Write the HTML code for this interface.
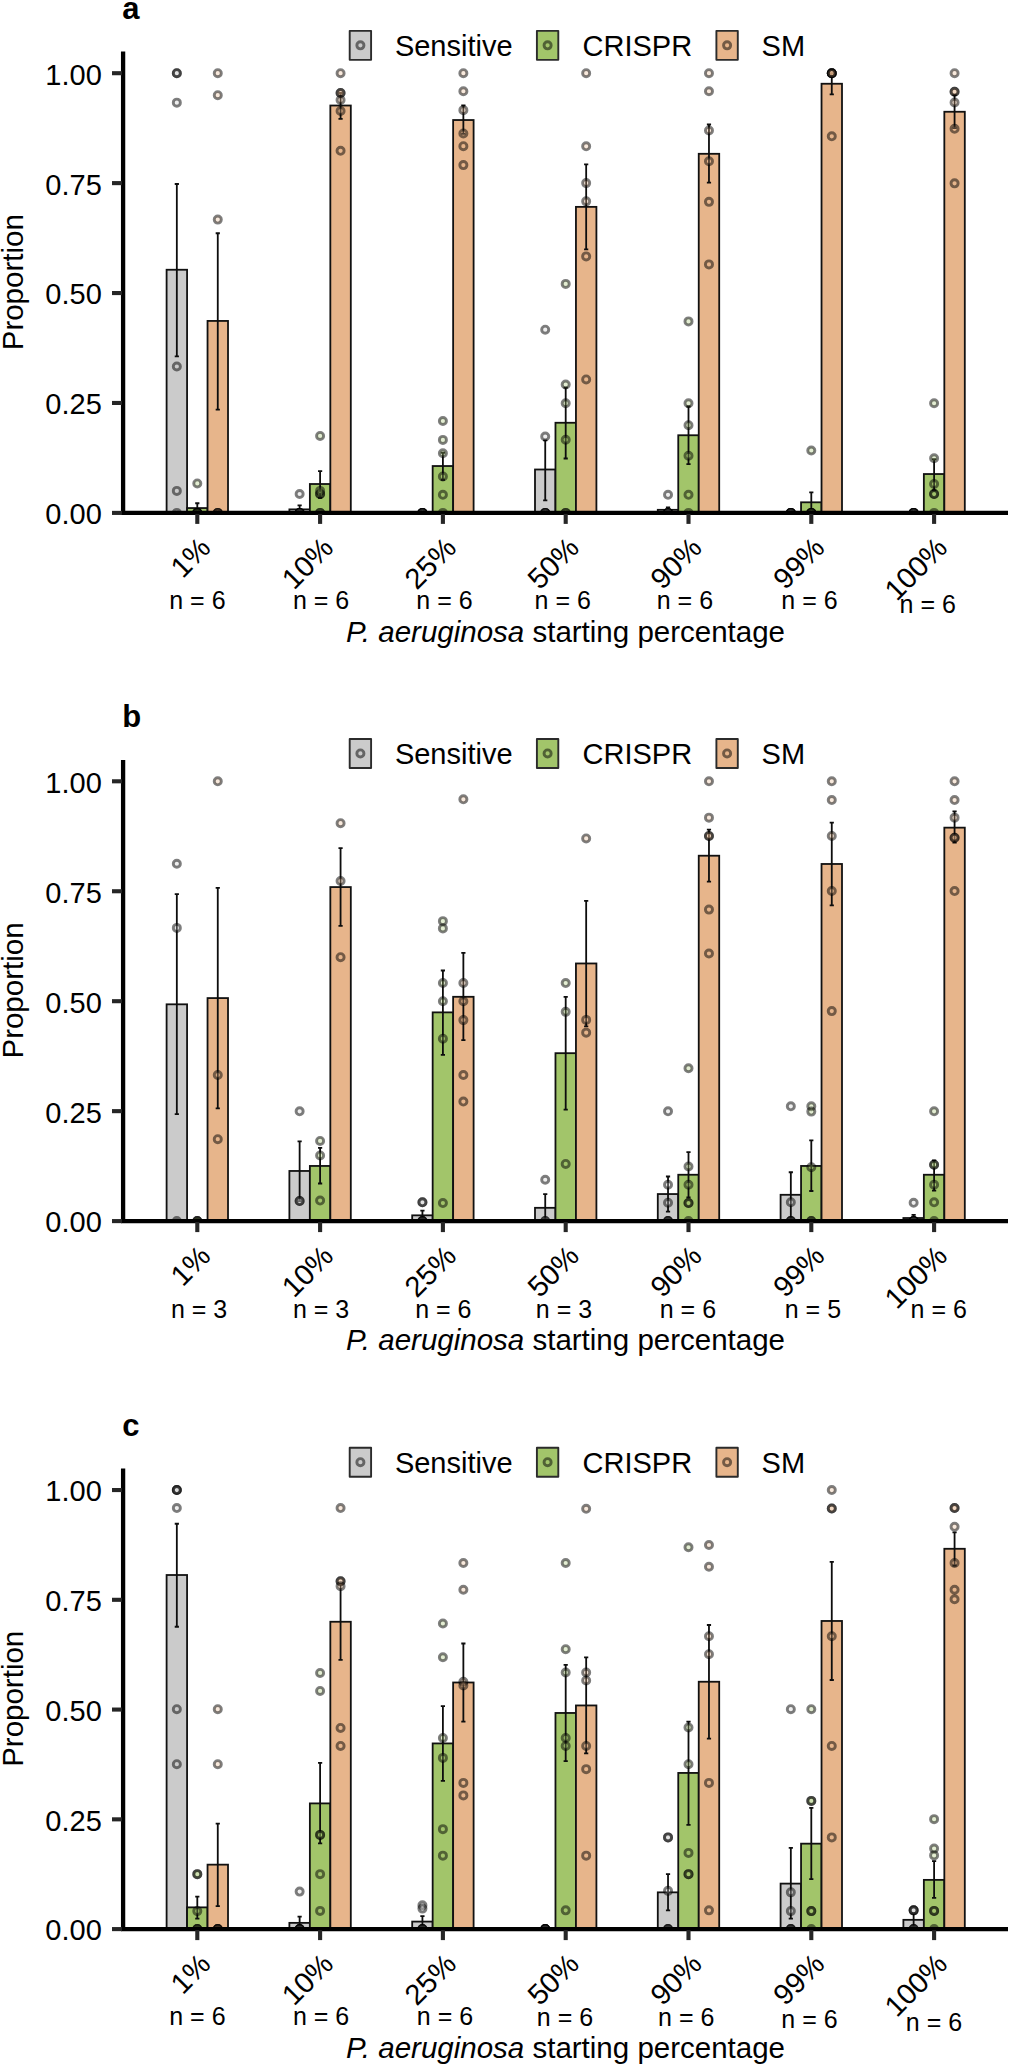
<!DOCTYPE html>
<html lang="en"><head><meta charset="utf-8"><title>Figure</title>
<style>html,body{margin:0;padding:0;background:#fff}svg{display:block}text{font-family:"Liberation Sans",Arial,sans-serif;fill:#000}</style>
</head><body>
<svg width="1016" height="2071" viewBox="0 0 1016 2071">
<rect width="1016" height="2071" fill="#ffffff"/>
<g>
<text x="122.3" y="18.8" font-size="31" font-weight="bold">a</text>
<rect x="349.7" y="30.85" width="21.4" height="29" fill="#cbcbcb" stroke="#2b2b2b" stroke-width="1.9" stroke-linejoin="round"/>
<circle cx="360.4" cy="45.35" r="3.55" fill="#cbcbcb" fill-opacity="0.3" stroke="#000" stroke-opacity="0.5" stroke-width="2.9"/>
<text x="394.9" y="55.85" font-size="29.0">Sensitive</text>
<rect x="536.9" y="30.85" width="21.4" height="29" fill="#a2c56a" stroke="#2b2b2b" stroke-width="1.9" stroke-linejoin="round"/>
<circle cx="547.6" cy="45.35" r="3.55" fill="#a2c56a" fill-opacity="0.3" stroke="#000" stroke-opacity="0.5" stroke-width="2.9"/>
<text x="582.5" y="55.85" font-size="29.0">CRISPR</text>
<rect x="716.4" y="30.85" width="21.4" height="29" fill="#e7b58b" stroke="#2b2b2b" stroke-width="1.9" stroke-linejoin="round"/>
<circle cx="727.1" cy="45.35" r="3.55" fill="#e7b58b" fill-opacity="0.3" stroke="#000" stroke-opacity="0.5" stroke-width="2.9"/>
<text x="761.6" y="55.85" font-size="29.0">SM</text>
<clipPath id="cpa"><rect x="123" y="21.6" width="893" height="491.3"/></clipPath>
<g clip-path="url(#cpa)">
<rect x="166.6" y="269.75" width="20.47" height="243.15" fill="#cbcbcb" stroke="#111" stroke-width="1.8"/>
<rect x="187.06" y="508.06" width="20.47" height="4.84" fill="#a2c56a" stroke="#111" stroke-width="1.8"/>
<rect x="207.54" y="320.93" width="20.47" height="191.97" fill="#e7b58b" stroke="#111" stroke-width="1.8"/>
<rect x="289.39" y="509.38" width="20.47" height="3.52" fill="#cbcbcb" stroke="#111" stroke-width="1.8"/>
<rect x="309.87" y="484.01" width="20.47" height="28.89" fill="#a2c56a" stroke="#111" stroke-width="1.8"/>
<rect x="330.34" y="105.52" width="20.47" height="407.38" fill="#e7b58b" stroke="#111" stroke-width="1.8"/>
<rect x="432.66" y="466.03" width="20.47" height="46.87" fill="#a2c56a" stroke="#111" stroke-width="1.8"/>
<rect x="453.13" y="120.03" width="20.47" height="392.87" fill="#e7b58b" stroke="#111" stroke-width="1.8"/>
<rect x="535" y="469.5" width="20.47" height="43.4" fill="#cbcbcb" stroke="#111" stroke-width="1.8"/>
<rect x="555.47" y="422.76" width="20.47" height="90.14" fill="#a2c56a" stroke="#111" stroke-width="1.8"/>
<rect x="575.94" y="206.87" width="20.47" height="306.03" fill="#e7b58b" stroke="#111" stroke-width="1.8"/>
<rect x="657.79" y="509.82" width="20.47" height="3.08" fill="#cbcbcb" stroke="#111" stroke-width="1.8"/>
<rect x="678.26" y="435.25" width="20.47" height="77.65" fill="#a2c56a" stroke="#111" stroke-width="1.8"/>
<rect x="698.74" y="153.8" width="20.47" height="359.1" fill="#e7b58b" stroke="#111" stroke-width="1.8"/>
<rect x="801.06" y="502.3" width="20.47" height="10.6" fill="#a2c56a" stroke="#111" stroke-width="1.8"/>
<rect x="821.53" y="83.75" width="20.47" height="429.15" fill="#e7b58b" stroke="#111" stroke-width="1.8"/>
<rect x="923.86" y="474.03" width="20.47" height="38.87" fill="#a2c56a" stroke="#111" stroke-width="1.8"/>
<rect x="944.33" y="111.76" width="20.47" height="401.14" fill="#e7b58b" stroke="#111" stroke-width="1.8"/>
<path d="M176.83 184V356.37M174.73 184h4.2M174.73 356.37h4.2" stroke="#0d0d0d" stroke-width="1.8" fill="none"/>
<path d="M197.3 503.23V512.9M195.2 503.23h4.2M195.2 512.9h4.2" stroke="#0d0d0d" stroke-width="1.8" fill="none"/>
<path d="M217.77 233.25V409.57M215.67 233.25h4.2M215.67 409.57h4.2" stroke="#0d0d0d" stroke-width="1.8" fill="none"/>
<path d="M299.63 505.43V512.9M297.53 505.43h4.2M297.53 512.9h4.2" stroke="#0d0d0d" stroke-width="1.8" fill="none"/>
<path d="M320.1 471.13V497.95M318 471.13h4.2M318 497.95h4.2" stroke="#0d0d0d" stroke-width="1.8" fill="none"/>
<path d="M340.57 92.99V118.93M338.47 92.99h4.2M338.47 118.93h4.2" stroke="#0d0d0d" stroke-width="1.8" fill="none"/>
<path d="M442.9 452.75V479.79M440.8 452.75h4.2M440.8 479.79h4.2" stroke="#0d0d0d" stroke-width="1.8" fill="none"/>
<path d="M463.37 105.52V133.88M461.27 105.52h4.2M461.27 133.88h4.2" stroke="#0d0d0d" stroke-width="1.8" fill="none"/>
<path d="M545.23 440.35V500.28M543.13 440.35h4.2M543.13 500.28h4.2" stroke="#0d0d0d" stroke-width="1.8" fill="none"/>
<path d="M565.7 387.72V458.51M563.6 387.72h4.2M563.6 458.51h4.2" stroke="#0d0d0d" stroke-width="1.8" fill="none"/>
<path d="M586.17 164.31V249.39M584.07 164.31h4.2M584.07 249.39h4.2" stroke="#0d0d0d" stroke-width="1.8" fill="none"/>
<path d="M668.03 507.32V512.46M665.93 507.32h4.2M665.93 512.46h4.2" stroke="#0d0d0d" stroke-width="1.8" fill="none"/>
<path d="M688.5 406.49V464.09M686.4 406.49h4.2M686.4 464.09h4.2" stroke="#0d0d0d" stroke-width="1.8" fill="none"/>
<path d="M708.97 124.51V182.55M706.87 124.51h4.2M706.87 182.55h4.2" stroke="#0d0d0d" stroke-width="1.8" fill="none"/>
<path d="M811.3 492.28V512.9M809.2 492.28h4.2M809.2 512.9h4.2" stroke="#0d0d0d" stroke-width="1.8" fill="none"/>
<path d="M831.77 73.2V94.31M829.67 73.2h4.2M829.67 94.31h4.2" stroke="#0d0d0d" stroke-width="1.8" fill="none"/>
<path d="M934.1 459.04V490.3M932 459.04h4.2M932 490.3h4.2" stroke="#0d0d0d" stroke-width="1.8" fill="none"/>
<path d="M954.57 95.01V128.03M952.47 95.01h4.2M952.47 128.03h4.2" stroke="#0d0d0d" stroke-width="1.8" fill="none"/>
<circle cx="176.83" cy="73.2" r="3.55" fill="#cbcbcb" fill-opacity="0.3" stroke="#000" stroke-opacity="0.5" stroke-width="2.9"/>
<circle cx="176.83" cy="73.2" r="3.55" fill="#cbcbcb" fill-opacity="0.3" stroke="#000" stroke-opacity="0.5" stroke-width="2.9"/>
<circle cx="176.83" cy="102.66" r="3.55" fill="#cbcbcb" fill-opacity="0.3" stroke="#000" stroke-opacity="0.5" stroke-width="2.9"/>
<circle cx="176.83" cy="366.48" r="3.55" fill="#cbcbcb" fill-opacity="0.3" stroke="#000" stroke-opacity="0.5" stroke-width="2.9"/>
<circle cx="176.83" cy="490.91" r="3.55" fill="#cbcbcb" fill-opacity="0.3" stroke="#000" stroke-opacity="0.5" stroke-width="2.9"/>
<circle cx="176.83" cy="512.9" r="3.55" fill="#cbcbcb" fill-opacity="0.3" stroke="#000" stroke-opacity="0.5" stroke-width="2.9"/>
<circle cx="197.3" cy="483.44" r="3.55" fill="#a2c56a" fill-opacity="0.3" stroke="#000" stroke-opacity="0.5" stroke-width="2.9"/>
<circle cx="197.3" cy="512.9" r="3.55" fill="#a2c56a" fill-opacity="0.3" stroke="#000" stroke-opacity="0.5" stroke-width="2.9"/>
<circle cx="197.3" cy="512.9" r="3.55" fill="#a2c56a" fill-opacity="0.3" stroke="#000" stroke-opacity="0.5" stroke-width="2.9"/>
<circle cx="197.3" cy="512.9" r="3.55" fill="#a2c56a" fill-opacity="0.3" stroke="#000" stroke-opacity="0.5" stroke-width="2.9"/>
<circle cx="197.3" cy="512.9" r="3.55" fill="#a2c56a" fill-opacity="0.3" stroke="#000" stroke-opacity="0.5" stroke-width="2.9"/>
<circle cx="197.3" cy="512.9" r="3.55" fill="#a2c56a" fill-opacity="0.3" stroke="#000" stroke-opacity="0.5" stroke-width="2.9"/>
<circle cx="217.77" cy="73.2" r="3.55" fill="#e7b58b" fill-opacity="0.3" stroke="#000" stroke-opacity="0.5" stroke-width="2.9"/>
<circle cx="217.77" cy="95.19" r="3.55" fill="#e7b58b" fill-opacity="0.3" stroke="#000" stroke-opacity="0.5" stroke-width="2.9"/>
<circle cx="217.77" cy="219.62" r="3.55" fill="#e7b58b" fill-opacity="0.3" stroke="#000" stroke-opacity="0.5" stroke-width="2.9"/>
<circle cx="217.77" cy="512.9" r="3.55" fill="#e7b58b" fill-opacity="0.3" stroke="#000" stroke-opacity="0.5" stroke-width="2.9"/>
<circle cx="217.77" cy="512.9" r="3.55" fill="#e7b58b" fill-opacity="0.3" stroke="#000" stroke-opacity="0.5" stroke-width="2.9"/>
<circle cx="217.77" cy="512.9" r="3.55" fill="#e7b58b" fill-opacity="0.3" stroke="#000" stroke-opacity="0.5" stroke-width="2.9"/>
<circle cx="299.63" cy="493.99" r="3.55" fill="#cbcbcb" fill-opacity="0.3" stroke="#000" stroke-opacity="0.5" stroke-width="2.9"/>
<circle cx="299.63" cy="512.9" r="3.55" fill="#cbcbcb" fill-opacity="0.3" stroke="#000" stroke-opacity="0.5" stroke-width="2.9"/>
<circle cx="299.63" cy="512.9" r="3.55" fill="#cbcbcb" fill-opacity="0.3" stroke="#000" stroke-opacity="0.5" stroke-width="2.9"/>
<circle cx="299.63" cy="512.9" r="3.55" fill="#cbcbcb" fill-opacity="0.3" stroke="#000" stroke-opacity="0.5" stroke-width="2.9"/>
<circle cx="299.63" cy="512.9" r="3.55" fill="#cbcbcb" fill-opacity="0.3" stroke="#000" stroke-opacity="0.5" stroke-width="2.9"/>
<circle cx="299.63" cy="512.9" r="3.55" fill="#cbcbcb" fill-opacity="0.3" stroke="#000" stroke-opacity="0.5" stroke-width="2.9"/>
<circle cx="320.1" cy="435.95" r="3.55" fill="#a2c56a" fill-opacity="0.3" stroke="#000" stroke-opacity="0.5" stroke-width="2.9"/>
<circle cx="320.1" cy="493.99" r="3.55" fill="#a2c56a" fill-opacity="0.3" stroke="#000" stroke-opacity="0.5" stroke-width="2.9"/>
<circle cx="320.1" cy="493.99" r="3.55" fill="#a2c56a" fill-opacity="0.3" stroke="#000" stroke-opacity="0.5" stroke-width="2.9"/>
<circle cx="320.1" cy="490.91" r="3.55" fill="#a2c56a" fill-opacity="0.3" stroke="#000" stroke-opacity="0.5" stroke-width="2.9"/>
<circle cx="320.1" cy="512.9" r="3.55" fill="#a2c56a" fill-opacity="0.3" stroke="#000" stroke-opacity="0.5" stroke-width="2.9"/>
<circle cx="320.1" cy="512.9" r="3.55" fill="#a2c56a" fill-opacity="0.3" stroke="#000" stroke-opacity="0.5" stroke-width="2.9"/>
<circle cx="340.57" cy="73.2" r="3.55" fill="#e7b58b" fill-opacity="0.3" stroke="#000" stroke-opacity="0.5" stroke-width="2.9"/>
<circle cx="340.57" cy="92.99" r="3.55" fill="#e7b58b" fill-opacity="0.3" stroke="#000" stroke-opacity="0.5" stroke-width="2.9"/>
<circle cx="340.57" cy="92.99" r="3.55" fill="#e7b58b" fill-opacity="0.3" stroke="#000" stroke-opacity="0.5" stroke-width="2.9"/>
<circle cx="340.57" cy="100.02" r="3.55" fill="#e7b58b" fill-opacity="0.3" stroke="#000" stroke-opacity="0.5" stroke-width="2.9"/>
<circle cx="340.57" cy="111.01" r="3.55" fill="#e7b58b" fill-opacity="0.3" stroke="#000" stroke-opacity="0.5" stroke-width="2.9"/>
<circle cx="340.57" cy="150.81" r="3.55" fill="#e7b58b" fill-opacity="0.3" stroke="#000" stroke-opacity="0.5" stroke-width="2.9"/>
<circle cx="422.43" cy="512.9" r="3.55" fill="#cbcbcb" fill-opacity="0.3" stroke="#000" stroke-opacity="0.5" stroke-width="2.9"/>
<circle cx="422.43" cy="512.9" r="3.55" fill="#cbcbcb" fill-opacity="0.3" stroke="#000" stroke-opacity="0.5" stroke-width="2.9"/>
<circle cx="422.43" cy="512.9" r="3.55" fill="#cbcbcb" fill-opacity="0.3" stroke="#000" stroke-opacity="0.5" stroke-width="2.9"/>
<circle cx="422.43" cy="512.9" r="3.55" fill="#cbcbcb" fill-opacity="0.3" stroke="#000" stroke-opacity="0.5" stroke-width="2.9"/>
<circle cx="422.43" cy="512.9" r="3.55" fill="#cbcbcb" fill-opacity="0.3" stroke="#000" stroke-opacity="0.5" stroke-width="2.9"/>
<circle cx="422.43" cy="512.9" r="3.55" fill="#cbcbcb" fill-opacity="0.3" stroke="#000" stroke-opacity="0.5" stroke-width="2.9"/>
<circle cx="442.9" cy="421" r="3.55" fill="#a2c56a" fill-opacity="0.3" stroke="#000" stroke-opacity="0.5" stroke-width="2.9"/>
<circle cx="442.9" cy="439.91" r="3.55" fill="#a2c56a" fill-opacity="0.3" stroke="#000" stroke-opacity="0.5" stroke-width="2.9"/>
<circle cx="442.9" cy="453.28" r="3.55" fill="#a2c56a" fill-opacity="0.3" stroke="#000" stroke-opacity="0.5" stroke-width="2.9"/>
<circle cx="442.9" cy="476.54" r="3.55" fill="#a2c56a" fill-opacity="0.3" stroke="#000" stroke-opacity="0.5" stroke-width="2.9"/>
<circle cx="442.9" cy="494.78" r="3.55" fill="#a2c56a" fill-opacity="0.3" stroke="#000" stroke-opacity="0.5" stroke-width="2.9"/>
<circle cx="442.9" cy="512.9" r="3.55" fill="#a2c56a" fill-opacity="0.3" stroke="#000" stroke-opacity="0.5" stroke-width="2.9"/>
<circle cx="463.37" cy="73.2" r="3.55" fill="#e7b58b" fill-opacity="0.3" stroke="#000" stroke-opacity="0.5" stroke-width="2.9"/>
<circle cx="463.37" cy="91.23" r="3.55" fill="#e7b58b" fill-opacity="0.3" stroke="#000" stroke-opacity="0.5" stroke-width="2.9"/>
<circle cx="463.37" cy="110.13" r="3.55" fill="#e7b58b" fill-opacity="0.3" stroke="#000" stroke-opacity="0.5" stroke-width="2.9"/>
<circle cx="463.37" cy="133.44" r="3.55" fill="#e7b58b" fill-opacity="0.3" stroke="#000" stroke-opacity="0.5" stroke-width="2.9"/>
<circle cx="463.37" cy="146.19" r="3.55" fill="#e7b58b" fill-opacity="0.3" stroke="#000" stroke-opacity="0.5" stroke-width="2.9"/>
<circle cx="463.37" cy="165.1" r="3.55" fill="#e7b58b" fill-opacity="0.3" stroke="#000" stroke-opacity="0.5" stroke-width="2.9"/>
<circle cx="545.23" cy="329.68" r="3.55" fill="#cbcbcb" fill-opacity="0.3" stroke="#000" stroke-opacity="0.5" stroke-width="2.9"/>
<circle cx="545.23" cy="436.48" r="3.55" fill="#cbcbcb" fill-opacity="0.3" stroke="#000" stroke-opacity="0.5" stroke-width="2.9"/>
<circle cx="545.23" cy="512.9" r="3.55" fill="#cbcbcb" fill-opacity="0.3" stroke="#000" stroke-opacity="0.5" stroke-width="2.9"/>
<circle cx="545.23" cy="512.9" r="3.55" fill="#cbcbcb" fill-opacity="0.3" stroke="#000" stroke-opacity="0.5" stroke-width="2.9"/>
<circle cx="545.23" cy="512.9" r="3.55" fill="#cbcbcb" fill-opacity="0.3" stroke="#000" stroke-opacity="0.5" stroke-width="2.9"/>
<circle cx="545.23" cy="512.9" r="3.55" fill="#cbcbcb" fill-opacity="0.3" stroke="#000" stroke-opacity="0.5" stroke-width="2.9"/>
<circle cx="565.7" cy="283.9" r="3.55" fill="#a2c56a" fill-opacity="0.3" stroke="#000" stroke-opacity="0.5" stroke-width="2.9"/>
<circle cx="565.7" cy="384.51" r="3.55" fill="#a2c56a" fill-opacity="0.3" stroke="#000" stroke-opacity="0.5" stroke-width="2.9"/>
<circle cx="565.7" cy="403.24" r="3.55" fill="#a2c56a" fill-opacity="0.3" stroke="#000" stroke-opacity="0.5" stroke-width="2.9"/>
<circle cx="565.7" cy="439.73" r="3.55" fill="#a2c56a" fill-opacity="0.3" stroke="#000" stroke-opacity="0.5" stroke-width="2.9"/>
<circle cx="565.7" cy="512.9" r="3.55" fill="#a2c56a" fill-opacity="0.3" stroke="#000" stroke-opacity="0.5" stroke-width="2.9"/>
<circle cx="565.7" cy="512.9" r="3.55" fill="#a2c56a" fill-opacity="0.3" stroke="#000" stroke-opacity="0.5" stroke-width="2.9"/>
<circle cx="586.17" cy="73.2" r="3.55" fill="#e7b58b" fill-opacity="0.3" stroke="#000" stroke-opacity="0.5" stroke-width="2.9"/>
<circle cx="586.17" cy="146.32" r="3.55" fill="#e7b58b" fill-opacity="0.3" stroke="#000" stroke-opacity="0.5" stroke-width="2.9"/>
<circle cx="586.17" cy="183.12" r="3.55" fill="#e7b58b" fill-opacity="0.3" stroke="#000" stroke-opacity="0.5" stroke-width="2.9"/>
<circle cx="586.17" cy="201.37" r="3.55" fill="#e7b58b" fill-opacity="0.3" stroke="#000" stroke-opacity="0.5" stroke-width="2.9"/>
<circle cx="586.17" cy="256.38" r="3.55" fill="#e7b58b" fill-opacity="0.3" stroke="#000" stroke-opacity="0.5" stroke-width="2.9"/>
<circle cx="586.17" cy="379.45" r="3.55" fill="#e7b58b" fill-opacity="0.3" stroke="#000" stroke-opacity="0.5" stroke-width="2.9"/>
<circle cx="668.03" cy="494.78" r="3.55" fill="#cbcbcb" fill-opacity="0.3" stroke="#000" stroke-opacity="0.5" stroke-width="2.9"/>
<circle cx="668.03" cy="512.9" r="3.55" fill="#cbcbcb" fill-opacity="0.3" stroke="#000" stroke-opacity="0.5" stroke-width="2.9"/>
<circle cx="668.03" cy="512.9" r="3.55" fill="#cbcbcb" fill-opacity="0.3" stroke="#000" stroke-opacity="0.5" stroke-width="2.9"/>
<circle cx="668.03" cy="512.9" r="3.55" fill="#cbcbcb" fill-opacity="0.3" stroke="#000" stroke-opacity="0.5" stroke-width="2.9"/>
<circle cx="668.03" cy="512.9" r="3.55" fill="#cbcbcb" fill-opacity="0.3" stroke="#000" stroke-opacity="0.5" stroke-width="2.9"/>
<circle cx="668.03" cy="512.9" r="3.55" fill="#cbcbcb" fill-opacity="0.3" stroke="#000" stroke-opacity="0.5" stroke-width="2.9"/>
<circle cx="688.5" cy="321.41" r="3.55" fill="#a2c56a" fill-opacity="0.3" stroke="#000" stroke-opacity="0.5" stroke-width="2.9"/>
<circle cx="688.5" cy="403.24" r="3.55" fill="#a2c56a" fill-opacity="0.3" stroke="#000" stroke-opacity="0.5" stroke-width="2.9"/>
<circle cx="688.5" cy="425.22" r="3.55" fill="#a2c56a" fill-opacity="0.3" stroke="#000" stroke-opacity="0.5" stroke-width="2.9"/>
<circle cx="688.5" cy="455.74" r="3.55" fill="#a2c56a" fill-opacity="0.3" stroke="#000" stroke-opacity="0.5" stroke-width="2.9"/>
<circle cx="688.5" cy="494.78" r="3.55" fill="#a2c56a" fill-opacity="0.3" stroke="#000" stroke-opacity="0.5" stroke-width="2.9"/>
<circle cx="688.5" cy="512.9" r="3.55" fill="#a2c56a" fill-opacity="0.3" stroke="#000" stroke-opacity="0.5" stroke-width="2.9"/>
<circle cx="708.97" cy="73.2" r="3.55" fill="#e7b58b" fill-opacity="0.3" stroke="#000" stroke-opacity="0.5" stroke-width="2.9"/>
<circle cx="708.97" cy="91.23" r="3.55" fill="#e7b58b" fill-opacity="0.3" stroke="#000" stroke-opacity="0.5" stroke-width="2.9"/>
<circle cx="708.97" cy="130.54" r="3.55" fill="#e7b58b" fill-opacity="0.3" stroke="#000" stroke-opacity="0.5" stroke-width="2.9"/>
<circle cx="708.97" cy="161.32" r="3.55" fill="#e7b58b" fill-opacity="0.3" stroke="#000" stroke-opacity="0.5" stroke-width="2.9"/>
<circle cx="708.97" cy="201.86" r="3.55" fill="#e7b58b" fill-opacity="0.3" stroke="#000" stroke-opacity="0.5" stroke-width="2.9"/>
<circle cx="708.97" cy="264.38" r="3.55" fill="#e7b58b" fill-opacity="0.3" stroke="#000" stroke-opacity="0.5" stroke-width="2.9"/>
<circle cx="790.83" cy="512.9" r="3.55" fill="#cbcbcb" fill-opacity="0.3" stroke="#000" stroke-opacity="0.5" stroke-width="2.9"/>
<circle cx="790.83" cy="512.9" r="3.55" fill="#cbcbcb" fill-opacity="0.3" stroke="#000" stroke-opacity="0.5" stroke-width="2.9"/>
<circle cx="790.83" cy="512.9" r="3.55" fill="#cbcbcb" fill-opacity="0.3" stroke="#000" stroke-opacity="0.5" stroke-width="2.9"/>
<circle cx="790.83" cy="512.9" r="3.55" fill="#cbcbcb" fill-opacity="0.3" stroke="#000" stroke-opacity="0.5" stroke-width="2.9"/>
<circle cx="790.83" cy="512.9" r="3.55" fill="#cbcbcb" fill-opacity="0.3" stroke="#000" stroke-opacity="0.5" stroke-width="2.9"/>
<circle cx="790.83" cy="512.9" r="3.55" fill="#cbcbcb" fill-opacity="0.3" stroke="#000" stroke-opacity="0.5" stroke-width="2.9"/>
<circle cx="811.3" cy="450.51" r="3.55" fill="#a2c56a" fill-opacity="0.3" stroke="#000" stroke-opacity="0.5" stroke-width="2.9"/>
<circle cx="811.3" cy="512.9" r="3.55" fill="#a2c56a" fill-opacity="0.3" stroke="#000" stroke-opacity="0.5" stroke-width="2.9"/>
<circle cx="811.3" cy="512.9" r="3.55" fill="#a2c56a" fill-opacity="0.3" stroke="#000" stroke-opacity="0.5" stroke-width="2.9"/>
<circle cx="811.3" cy="512.9" r="3.55" fill="#a2c56a" fill-opacity="0.3" stroke="#000" stroke-opacity="0.5" stroke-width="2.9"/>
<circle cx="811.3" cy="512.9" r="3.55" fill="#a2c56a" fill-opacity="0.3" stroke="#000" stroke-opacity="0.5" stroke-width="2.9"/>
<circle cx="811.3" cy="512.9" r="3.55" fill="#a2c56a" fill-opacity="0.3" stroke="#000" stroke-opacity="0.5" stroke-width="2.9"/>
<circle cx="831.77" cy="73.2" r="3.55" fill="#e7b58b" fill-opacity="0.3" stroke="#000" stroke-opacity="0.5" stroke-width="2.9"/>
<circle cx="831.77" cy="73.2" r="3.55" fill="#e7b58b" fill-opacity="0.3" stroke="#000" stroke-opacity="0.5" stroke-width="2.9"/>
<circle cx="831.77" cy="73.2" r="3.55" fill="#e7b58b" fill-opacity="0.3" stroke="#000" stroke-opacity="0.5" stroke-width="2.9"/>
<circle cx="831.77" cy="73.2" r="3.55" fill="#e7b58b" fill-opacity="0.3" stroke="#000" stroke-opacity="0.5" stroke-width="2.9"/>
<circle cx="831.77" cy="73.2" r="3.55" fill="#e7b58b" fill-opacity="0.3" stroke="#000" stroke-opacity="0.5" stroke-width="2.9"/>
<circle cx="831.77" cy="136.3" r="3.55" fill="#e7b58b" fill-opacity="0.3" stroke="#000" stroke-opacity="0.5" stroke-width="2.9"/>
<circle cx="913.63" cy="512.9" r="3.55" fill="#cbcbcb" fill-opacity="0.3" stroke="#000" stroke-opacity="0.5" stroke-width="2.9"/>
<circle cx="913.63" cy="512.9" r="3.55" fill="#cbcbcb" fill-opacity="0.3" stroke="#000" stroke-opacity="0.5" stroke-width="2.9"/>
<circle cx="913.63" cy="512.9" r="3.55" fill="#cbcbcb" fill-opacity="0.3" stroke="#000" stroke-opacity="0.5" stroke-width="2.9"/>
<circle cx="913.63" cy="512.9" r="3.55" fill="#cbcbcb" fill-opacity="0.3" stroke="#000" stroke-opacity="0.5" stroke-width="2.9"/>
<circle cx="913.63" cy="512.9" r="3.55" fill="#cbcbcb" fill-opacity="0.3" stroke="#000" stroke-opacity="0.5" stroke-width="2.9"/>
<circle cx="913.63" cy="512.9" r="3.55" fill="#cbcbcb" fill-opacity="0.3" stroke="#000" stroke-opacity="0.5" stroke-width="2.9"/>
<circle cx="934.1" cy="403.24" r="3.55" fill="#a2c56a" fill-opacity="0.3" stroke="#000" stroke-opacity="0.5" stroke-width="2.9"/>
<circle cx="934.1" cy="458.29" r="3.55" fill="#a2c56a" fill-opacity="0.3" stroke="#000" stroke-opacity="0.5" stroke-width="2.9"/>
<circle cx="934.1" cy="484.01" r="3.55" fill="#a2c56a" fill-opacity="0.3" stroke="#000" stroke-opacity="0.5" stroke-width="2.9"/>
<circle cx="934.1" cy="494.04" r="3.55" fill="#a2c56a" fill-opacity="0.3" stroke="#000" stroke-opacity="0.5" stroke-width="2.9"/>
<circle cx="934.1" cy="494.04" r="3.55" fill="#a2c56a" fill-opacity="0.3" stroke="#000" stroke-opacity="0.5" stroke-width="2.9"/>
<circle cx="934.1" cy="512.9" r="3.55" fill="#a2c56a" fill-opacity="0.3" stroke="#000" stroke-opacity="0.5" stroke-width="2.9"/>
<circle cx="954.57" cy="73.2" r="3.55" fill="#e7b58b" fill-opacity="0.3" stroke="#000" stroke-opacity="0.5" stroke-width="2.9"/>
<circle cx="954.57" cy="91.76" r="3.55" fill="#e7b58b" fill-opacity="0.3" stroke="#000" stroke-opacity="0.5" stroke-width="2.9"/>
<circle cx="954.57" cy="91.76" r="3.55" fill="#e7b58b" fill-opacity="0.3" stroke="#000" stroke-opacity="0.5" stroke-width="2.9"/>
<circle cx="954.57" cy="102.53" r="3.55" fill="#e7b58b" fill-opacity="0.3" stroke="#000" stroke-opacity="0.5" stroke-width="2.9"/>
<circle cx="954.57" cy="128.78" r="3.55" fill="#e7b58b" fill-opacity="0.3" stroke="#000" stroke-opacity="0.5" stroke-width="2.9"/>
<circle cx="954.57" cy="183.34" r="3.55" fill="#e7b58b" fill-opacity="0.3" stroke="#000" stroke-opacity="0.5" stroke-width="2.9"/>
</g>
<path d="M123.1 51.6V512.9H1008" stroke="#000" stroke-width="4.3" fill="none" stroke-linejoin="miter"/>
<path d="M112 512.9H122" stroke="#262626" stroke-width="4.1"/>
<text x="101.8" y="524.28" font-size="29" text-anchor="end">0.00</text>
<path d="M112 402.97H122" stroke="#262626" stroke-width="4.1"/>
<text x="101.8" y="414.36" font-size="29" text-anchor="end">0.25</text>
<path d="M112 293.05H122" stroke="#262626" stroke-width="4.1"/>
<text x="101.8" y="304.43" font-size="29" text-anchor="end">0.50</text>
<path d="M112 183.12H122" stroke="#262626" stroke-width="4.1"/>
<text x="101.8" y="194.51" font-size="29" text-anchor="end">0.75</text>
<path d="M112 73.2H122" stroke="#262626" stroke-width="4.1"/>
<text x="101.8" y="84.58" font-size="29" text-anchor="end">1.00</text>
<path d="M197.3 513.9V523.9" stroke="#262626" stroke-width="4.1"/>
<text transform="translate(212.3 549.6) rotate(-45)" font-size="29" text-anchor="end">1%</text>
<path d="M320.1 513.9V523.9" stroke="#262626" stroke-width="4.1"/>
<text transform="translate(335.1 549.6) rotate(-45)" font-size="29" text-anchor="end">10%</text>
<path d="M442.9 513.9V523.9" stroke="#262626" stroke-width="4.1"/>
<text transform="translate(457.9 549.6) rotate(-45)" font-size="29" text-anchor="end">25%</text>
<path d="M565.7 513.9V523.9" stroke="#262626" stroke-width="4.1"/>
<text transform="translate(580.7 549.6) rotate(-45)" font-size="29" text-anchor="end">50%</text>
<path d="M688.5 513.9V523.9" stroke="#262626" stroke-width="4.1"/>
<text transform="translate(703.5 549.6) rotate(-45)" font-size="29" text-anchor="end">90%</text>
<path d="M811.3 513.9V523.9" stroke="#262626" stroke-width="4.1"/>
<text transform="translate(826.3 549.6) rotate(-45)" font-size="29" text-anchor="end">99%</text>
<path d="M934.1 513.9V523.9" stroke="#262626" stroke-width="4.1"/>
<text transform="translate(949.1 549.6) rotate(-45)" font-size="29" text-anchor="end">100%</text>
<text x="197.4" y="608.7" font-size="25" text-anchor="middle">n = 6</text>
<text x="321.1" y="608.7" font-size="25" text-anchor="middle">n = 6</text>
<text x="444.5" y="608.7" font-size="25" text-anchor="middle">n = 6</text>
<text x="562.7" y="608.7" font-size="25" text-anchor="middle">n = 6</text>
<text x="684.9" y="608.7" font-size="25" text-anchor="middle">n = 6</text>
<text x="809.5" y="608.7" font-size="25" text-anchor="middle">n = 6</text>
<text x="927.7" y="613.1" font-size="25" text-anchor="middle">n = 6</text>
<text x="565.5" y="642.2" font-size="29.5" text-anchor="middle"><tspan font-style="italic">P. aeruginosa</tspan> starting percentage</text>
<text transform="translate(23.4 282.25) rotate(-90)" font-size="29.5" text-anchor="middle">Proportion</text>
</g>
<g>
<text x="122.3" y="727.2" font-size="31" font-weight="bold">b</text>
<rect x="349.7" y="738.95" width="21.4" height="29" fill="#cbcbcb" stroke="#2b2b2b" stroke-width="1.9" stroke-linejoin="round"/>
<circle cx="360.4" cy="753.45" r="3.55" fill="#cbcbcb" fill-opacity="0.3" stroke="#000" stroke-opacity="0.5" stroke-width="2.9"/>
<text x="394.9" y="763.95" font-size="29.0">Sensitive</text>
<rect x="536.9" y="738.95" width="21.4" height="29" fill="#a2c56a" stroke="#2b2b2b" stroke-width="1.9" stroke-linejoin="round"/>
<circle cx="547.6" cy="753.45" r="3.55" fill="#a2c56a" fill-opacity="0.3" stroke="#000" stroke-opacity="0.5" stroke-width="2.9"/>
<text x="582.5" y="763.95" font-size="29.0">CRISPR</text>
<rect x="716.4" y="738.95" width="21.4" height="29" fill="#e7b58b" stroke="#2b2b2b" stroke-width="1.9" stroke-linejoin="round"/>
<circle cx="727.1" cy="753.45" r="3.55" fill="#e7b58b" fill-opacity="0.3" stroke="#000" stroke-opacity="0.5" stroke-width="2.9"/>
<text x="761.6" y="763.95" font-size="29.0">SM</text>
<clipPath id="cpb"><rect x="123" y="729.9" width="893" height="491.2"/></clipPath>
<g clip-path="url(#cpb)">
<rect x="166.6" y="1004.32" width="20.47" height="216.78" fill="#cbcbcb" stroke="#111" stroke-width="1.8"/>
<rect x="207.54" y="998.08" width="20.47" height="223.02" fill="#e7b58b" stroke="#111" stroke-width="1.8"/>
<rect x="289.39" y="1170.96" width="20.47" height="50.14" fill="#cbcbcb" stroke="#111" stroke-width="1.8"/>
<rect x="309.87" y="1165.95" width="20.47" height="55.15" fill="#a2c56a" stroke="#111" stroke-width="1.8"/>
<rect x="330.34" y="887.07" width="20.47" height="334.03" fill="#e7b58b" stroke="#111" stroke-width="1.8"/>
<rect x="412.19" y="1215.34" width="20.47" height="5.76" fill="#cbcbcb" stroke="#111" stroke-width="1.8"/>
<rect x="432.66" y="1012.37" width="20.47" height="208.73" fill="#a2c56a" stroke="#111" stroke-width="1.8"/>
<rect x="453.13" y="996.8" width="20.47" height="224.3" fill="#e7b58b" stroke="#111" stroke-width="1.8"/>
<rect x="535" y="1207.82" width="20.47" height="13.28" fill="#cbcbcb" stroke="#111" stroke-width="1.8"/>
<rect x="555.47" y="1053.18" width="20.47" height="167.92" fill="#a2c56a" stroke="#111" stroke-width="1.8"/>
<rect x="575.94" y="963.47" width="20.47" height="257.63" fill="#e7b58b" stroke="#111" stroke-width="1.8"/>
<rect x="657.79" y="1194.05" width="20.47" height="27.05" fill="#cbcbcb" stroke="#111" stroke-width="1.8"/>
<rect x="678.26" y="1174.75" width="20.47" height="46.35" fill="#a2c56a" stroke="#111" stroke-width="1.8"/>
<rect x="698.74" y="855.71" width="20.47" height="365.39" fill="#e7b58b" stroke="#111" stroke-width="1.8"/>
<rect x="780.59" y="1194.8" width="20.47" height="26.3" fill="#cbcbcb" stroke="#111" stroke-width="1.8"/>
<rect x="801.06" y="1165.95" width="20.47" height="55.15" fill="#a2c56a" stroke="#111" stroke-width="1.8"/>
<rect x="821.53" y="863.98" width="20.47" height="357.12" fill="#e7b58b" stroke="#111" stroke-width="1.8"/>
<rect x="903.39" y="1218.02" width="20.47" height="3.08" fill="#cbcbcb" stroke="#111" stroke-width="1.8"/>
<rect x="923.86" y="1174.75" width="20.47" height="46.35" fill="#a2c56a" stroke="#111" stroke-width="1.8"/>
<rect x="944.33" y="827.65" width="20.47" height="393.45" fill="#e7b58b" stroke="#111" stroke-width="1.8"/>
<path d="M176.83 894.06V1114.1M174.73 894.06h4.2M174.73 1114.1h4.2" stroke="#0d0d0d" stroke-width="1.8" fill="none"/>
<path d="M217.77 887.82V1108.34M215.67 887.82h4.2M215.67 1108.34h4.2" stroke="#0d0d0d" stroke-width="1.8" fill="none"/>
<path d="M299.63 1141.41V1201.05M297.53 1141.41h4.2M297.53 1201.05h4.2" stroke="#0d0d0d" stroke-width="1.8" fill="none"/>
<path d="M320.1 1147.92V1183.5M318 1147.92h4.2M318 1183.5h4.2" stroke="#0d0d0d" stroke-width="1.8" fill="none"/>
<path d="M340.57 848.19V925.91M338.47 848.19h4.2M338.47 925.91h4.2" stroke="#0d0d0d" stroke-width="1.8" fill="none"/>
<path d="M422.43 1210.59V1219.78M420.33 1210.59h4.2M420.33 1219.78h4.2" stroke="#0d0d0d" stroke-width="1.8" fill="none"/>
<path d="M442.9 970.5V1054.94M440.8 970.5h4.2M440.8 1054.94h4.2" stroke="#0d0d0d" stroke-width="1.8" fill="none"/>
<path d="M463.37 952.95V1040.17M461.27 952.95h4.2M461.27 1040.17h4.2" stroke="#0d0d0d" stroke-width="1.8" fill="none"/>
<path d="M545.23 1194.05V1221.1M543.13 1194.05h4.2M543.13 1221.1h4.2" stroke="#0d0d0d" stroke-width="1.8" fill="none"/>
<path d="M565.7 996.8V1109.57M563.6 996.8h4.2M563.6 1109.57h4.2" stroke="#0d0d0d" stroke-width="1.8" fill="none"/>
<path d="M586.17 900.84V1026.4M584.07 900.84h4.2M584.07 1026.4h4.2" stroke="#0d0d0d" stroke-width="1.8" fill="none"/>
<path d="M668.03 1176.5V1211.56M665.93 1176.5h4.2M665.93 1211.56h4.2" stroke="#0d0d0d" stroke-width="1.8" fill="none"/>
<path d="M688.5 1152.18V1197.31M686.4 1152.18h4.2M686.4 1197.31h4.2" stroke="#0d0d0d" stroke-width="1.8" fill="none"/>
<path d="M708.97 829.68V881.53M706.87 829.68h4.2M706.87 881.53h4.2" stroke="#0d0d0d" stroke-width="1.8" fill="none"/>
<path d="M790.83 1172.24V1221.1M788.73 1172.24h4.2M788.73 1221.1h4.2" stroke="#0d0d0d" stroke-width="1.8" fill="none"/>
<path d="M811.3 1140.4V1191.02M809.2 1140.4h4.2M809.2 1191.02h4.2" stroke="#0d0d0d" stroke-width="1.8" fill="none"/>
<path d="M831.77 822.64V905.37M829.67 822.64h4.2M829.67 905.37h4.2" stroke="#0d0d0d" stroke-width="1.8" fill="none"/>
<path d="M913.63 1214.85V1221.1M911.53 1214.85h4.2M911.53 1221.1h4.2" stroke="#0d0d0d" stroke-width="1.8" fill="none"/>
<path d="M934.1 1160.41V1190.53M932 1160.41h4.2M932 1190.53h4.2" stroke="#0d0d0d" stroke-width="1.8" fill="none"/>
<path d="M954.57 811.38V842.7M952.47 811.38h4.2M952.47 842.7h4.2" stroke="#0d0d0d" stroke-width="1.8" fill="none"/>
<circle cx="176.83" cy="863.76" r="3.55" fill="#cbcbcb" fill-opacity="0.3" stroke="#000" stroke-opacity="0.5" stroke-width="2.9"/>
<circle cx="176.83" cy="927.89" r="3.55" fill="#cbcbcb" fill-opacity="0.3" stroke="#000" stroke-opacity="0.5" stroke-width="2.9"/>
<circle cx="176.83" cy="1221.1" r="3.55" fill="#cbcbcb" fill-opacity="0.3" stroke="#000" stroke-opacity="0.5" stroke-width="2.9"/>
<circle cx="197.3" cy="1221.1" r="3.55" fill="#a2c56a" fill-opacity="0.3" stroke="#000" stroke-opacity="0.5" stroke-width="2.9"/>
<circle cx="197.3" cy="1221.1" r="3.55" fill="#a2c56a" fill-opacity="0.3" stroke="#000" stroke-opacity="0.5" stroke-width="2.9"/>
<circle cx="197.3" cy="1221.1" r="3.55" fill="#a2c56a" fill-opacity="0.3" stroke="#000" stroke-opacity="0.5" stroke-width="2.9"/>
<circle cx="217.77" cy="781.3" r="3.55" fill="#e7b58b" fill-opacity="0.3" stroke="#000" stroke-opacity="0.5" stroke-width="2.9"/>
<circle cx="217.77" cy="1075" r="3.55" fill="#e7b58b" fill-opacity="0.3" stroke="#000" stroke-opacity="0.5" stroke-width="2.9"/>
<circle cx="217.77" cy="1139.17" r="3.55" fill="#e7b58b" fill-opacity="0.3" stroke="#000" stroke-opacity="0.5" stroke-width="2.9"/>
<circle cx="299.63" cy="1111.33" r="3.55" fill="#cbcbcb" fill-opacity="0.3" stroke="#000" stroke-opacity="0.5" stroke-width="2.9"/>
<circle cx="299.63" cy="1201.05" r="3.55" fill="#cbcbcb" fill-opacity="0.3" stroke="#000" stroke-opacity="0.5" stroke-width="2.9"/>
<circle cx="299.63" cy="1201.05" r="3.55" fill="#cbcbcb" fill-opacity="0.3" stroke="#000" stroke-opacity="0.5" stroke-width="2.9"/>
<circle cx="320.1" cy="1140.92" r="3.55" fill="#a2c56a" fill-opacity="0.3" stroke="#000" stroke-opacity="0.5" stroke-width="2.9"/>
<circle cx="320.1" cy="1155.44" r="3.55" fill="#a2c56a" fill-opacity="0.3" stroke="#000" stroke-opacity="0.5" stroke-width="2.9"/>
<circle cx="320.1" cy="1200.56" r="3.55" fill="#a2c56a" fill-opacity="0.3" stroke="#000" stroke-opacity="0.5" stroke-width="2.9"/>
<circle cx="340.57" cy="823.17" r="3.55" fill="#e7b58b" fill-opacity="0.3" stroke="#000" stroke-opacity="0.5" stroke-width="2.9"/>
<circle cx="340.57" cy="881.05" r="3.55" fill="#e7b58b" fill-opacity="0.3" stroke="#000" stroke-opacity="0.5" stroke-width="2.9"/>
<circle cx="340.57" cy="957.22" r="3.55" fill="#e7b58b" fill-opacity="0.3" stroke="#000" stroke-opacity="0.5" stroke-width="2.9"/>
<circle cx="422.43" cy="1202.32" r="3.55" fill="#cbcbcb" fill-opacity="0.3" stroke="#000" stroke-opacity="0.5" stroke-width="2.9"/>
<circle cx="422.43" cy="1202.32" r="3.55" fill="#cbcbcb" fill-opacity="0.3" stroke="#000" stroke-opacity="0.5" stroke-width="2.9"/>
<circle cx="422.43" cy="1221.1" r="3.55" fill="#cbcbcb" fill-opacity="0.3" stroke="#000" stroke-opacity="0.5" stroke-width="2.9"/>
<circle cx="422.43" cy="1221.1" r="3.55" fill="#cbcbcb" fill-opacity="0.3" stroke="#000" stroke-opacity="0.5" stroke-width="2.9"/>
<circle cx="422.43" cy="1221.1" r="3.55" fill="#cbcbcb" fill-opacity="0.3" stroke="#000" stroke-opacity="0.5" stroke-width="2.9"/>
<circle cx="422.43" cy="1221.1" r="3.55" fill="#cbcbcb" fill-opacity="0.3" stroke="#000" stroke-opacity="0.5" stroke-width="2.9"/>
<circle cx="442.9" cy="921.16" r="3.55" fill="#a2c56a" fill-opacity="0.3" stroke="#000" stroke-opacity="0.5" stroke-width="2.9"/>
<circle cx="442.9" cy="928.41" r="3.55" fill="#a2c56a" fill-opacity="0.3" stroke="#000" stroke-opacity="0.5" stroke-width="2.9"/>
<circle cx="442.9" cy="983.04" r="3.55" fill="#a2c56a" fill-opacity="0.3" stroke="#000" stroke-opacity="0.5" stroke-width="2.9"/>
<circle cx="442.9" cy="1001.33" r="3.55" fill="#a2c56a" fill-opacity="0.3" stroke="#000" stroke-opacity="0.5" stroke-width="2.9"/>
<circle cx="442.9" cy="1038.67" r="3.55" fill="#a2c56a" fill-opacity="0.3" stroke="#000" stroke-opacity="0.5" stroke-width="2.9"/>
<circle cx="442.9" cy="1203.07" r="3.55" fill="#a2c56a" fill-opacity="0.3" stroke="#000" stroke-opacity="0.5" stroke-width="2.9"/>
<circle cx="463.37" cy="799.33" r="3.55" fill="#e7b58b" fill-opacity="0.3" stroke="#000" stroke-opacity="0.5" stroke-width="2.9"/>
<circle cx="463.37" cy="983.04" r="3.55" fill="#e7b58b" fill-opacity="0.3" stroke="#000" stroke-opacity="0.5" stroke-width="2.9"/>
<circle cx="463.37" cy="1001.33" r="3.55" fill="#e7b58b" fill-opacity="0.3" stroke="#000" stroke-opacity="0.5" stroke-width="2.9"/>
<circle cx="463.37" cy="1020.11" r="3.55" fill="#e7b58b" fill-opacity="0.3" stroke="#000" stroke-opacity="0.5" stroke-width="2.9"/>
<circle cx="463.37" cy="1075" r="3.55" fill="#e7b58b" fill-opacity="0.3" stroke="#000" stroke-opacity="0.5" stroke-width="2.9"/>
<circle cx="463.37" cy="1101.56" r="3.55" fill="#e7b58b" fill-opacity="0.3" stroke="#000" stroke-opacity="0.5" stroke-width="2.9"/>
<circle cx="545.23" cy="1179.76" r="3.55" fill="#cbcbcb" fill-opacity="0.3" stroke="#000" stroke-opacity="0.5" stroke-width="2.9"/>
<circle cx="545.23" cy="1221.1" r="3.55" fill="#cbcbcb" fill-opacity="0.3" stroke="#000" stroke-opacity="0.5" stroke-width="2.9"/>
<circle cx="545.23" cy="1221.1" r="3.55" fill="#cbcbcb" fill-opacity="0.3" stroke="#000" stroke-opacity="0.5" stroke-width="2.9"/>
<circle cx="565.7" cy="983.04" r="3.55" fill="#a2c56a" fill-opacity="0.3" stroke="#000" stroke-opacity="0.5" stroke-width="2.9"/>
<circle cx="565.7" cy="1011.84" r="3.55" fill="#a2c56a" fill-opacity="0.3" stroke="#000" stroke-opacity="0.5" stroke-width="2.9"/>
<circle cx="565.7" cy="1163.93" r="3.55" fill="#a2c56a" fill-opacity="0.3" stroke="#000" stroke-opacity="0.5" stroke-width="2.9"/>
<circle cx="586.17" cy="838.43" r="3.55" fill="#e7b58b" fill-opacity="0.3" stroke="#000" stroke-opacity="0.5" stroke-width="2.9"/>
<circle cx="586.17" cy="1019.89" r="3.55" fill="#e7b58b" fill-opacity="0.3" stroke="#000" stroke-opacity="0.5" stroke-width="2.9"/>
<circle cx="586.17" cy="1032.65" r="3.55" fill="#e7b58b" fill-opacity="0.3" stroke="#000" stroke-opacity="0.5" stroke-width="2.9"/>
<circle cx="668.03" cy="1111.33" r="3.55" fill="#cbcbcb" fill-opacity="0.3" stroke="#000" stroke-opacity="0.5" stroke-width="2.9"/>
<circle cx="668.03" cy="1184.77" r="3.55" fill="#cbcbcb" fill-opacity="0.3" stroke="#000" stroke-opacity="0.5" stroke-width="2.9"/>
<circle cx="668.03" cy="1202.8" r="3.55" fill="#cbcbcb" fill-opacity="0.3" stroke="#000" stroke-opacity="0.5" stroke-width="2.9"/>
<circle cx="668.03" cy="1221.1" r="3.55" fill="#cbcbcb" fill-opacity="0.3" stroke="#000" stroke-opacity="0.5" stroke-width="2.9"/>
<circle cx="668.03" cy="1221.1" r="3.55" fill="#cbcbcb" fill-opacity="0.3" stroke="#000" stroke-opacity="0.5" stroke-width="2.9"/>
<circle cx="668.03" cy="1221.1" r="3.55" fill="#cbcbcb" fill-opacity="0.3" stroke="#000" stroke-opacity="0.5" stroke-width="2.9"/>
<circle cx="688.5" cy="1068.23" r="3.55" fill="#a2c56a" fill-opacity="0.3" stroke="#000" stroke-opacity="0.5" stroke-width="2.9"/>
<circle cx="688.5" cy="1166.48" r="3.55" fill="#a2c56a" fill-opacity="0.3" stroke="#000" stroke-opacity="0.5" stroke-width="2.9"/>
<circle cx="688.5" cy="1184.77" r="3.55" fill="#a2c56a" fill-opacity="0.3" stroke="#000" stroke-opacity="0.5" stroke-width="2.9"/>
<circle cx="688.5" cy="1203.07" r="3.55" fill="#a2c56a" fill-opacity="0.3" stroke="#000" stroke-opacity="0.5" stroke-width="2.9"/>
<circle cx="688.5" cy="1203.07" r="3.55" fill="#a2c56a" fill-opacity="0.3" stroke="#000" stroke-opacity="0.5" stroke-width="2.9"/>
<circle cx="688.5" cy="1221.1" r="3.55" fill="#a2c56a" fill-opacity="0.3" stroke="#000" stroke-opacity="0.5" stroke-width="2.9"/>
<circle cx="708.97" cy="781.3" r="3.55" fill="#e7b58b" fill-opacity="0.3" stroke="#000" stroke-opacity="0.5" stroke-width="2.9"/>
<circle cx="708.97" cy="817.63" r="3.55" fill="#e7b58b" fill-opacity="0.3" stroke="#000" stroke-opacity="0.5" stroke-width="2.9"/>
<circle cx="708.97" cy="835.92" r="3.55" fill="#e7b58b" fill-opacity="0.3" stroke="#000" stroke-opacity="0.5" stroke-width="2.9"/>
<circle cx="708.97" cy="835.92" r="3.55" fill="#e7b58b" fill-opacity="0.3" stroke="#000" stroke-opacity="0.5" stroke-width="2.9"/>
<circle cx="708.97" cy="909.59" r="3.55" fill="#e7b58b" fill-opacity="0.3" stroke="#000" stroke-opacity="0.5" stroke-width="2.9"/>
<circle cx="708.97" cy="953.48" r="3.55" fill="#e7b58b" fill-opacity="0.3" stroke="#000" stroke-opacity="0.5" stroke-width="2.9"/>
<circle cx="790.83" cy="1106.31" r="3.55" fill="#cbcbcb" fill-opacity="0.3" stroke="#000" stroke-opacity="0.5" stroke-width="2.9"/>
<circle cx="790.83" cy="1202.32" r="3.55" fill="#cbcbcb" fill-opacity="0.3" stroke="#000" stroke-opacity="0.5" stroke-width="2.9"/>
<circle cx="790.83" cy="1221.1" r="3.55" fill="#cbcbcb" fill-opacity="0.3" stroke="#000" stroke-opacity="0.5" stroke-width="2.9"/>
<circle cx="790.83" cy="1221.1" r="3.55" fill="#cbcbcb" fill-opacity="0.3" stroke="#000" stroke-opacity="0.5" stroke-width="2.9"/>
<circle cx="790.83" cy="1221.1" r="3.55" fill="#cbcbcb" fill-opacity="0.3" stroke="#000" stroke-opacity="0.5" stroke-width="2.9"/>
<circle cx="811.3" cy="1106.31" r="3.55" fill="#a2c56a" fill-opacity="0.3" stroke="#000" stroke-opacity="0.5" stroke-width="2.9"/>
<circle cx="811.3" cy="1111.59" r="3.55" fill="#a2c56a" fill-opacity="0.3" stroke="#000" stroke-opacity="0.5" stroke-width="2.9"/>
<circle cx="811.3" cy="1167.22" r="3.55" fill="#a2c56a" fill-opacity="0.3" stroke="#000" stroke-opacity="0.5" stroke-width="2.9"/>
<circle cx="811.3" cy="1221.1" r="3.55" fill="#a2c56a" fill-opacity="0.3" stroke="#000" stroke-opacity="0.5" stroke-width="2.9"/>
<circle cx="811.3" cy="1221.1" r="3.55" fill="#a2c56a" fill-opacity="0.3" stroke="#000" stroke-opacity="0.5" stroke-width="2.9"/>
<circle cx="831.77" cy="781.3" r="3.55" fill="#e7b58b" fill-opacity="0.3" stroke="#000" stroke-opacity="0.5" stroke-width="2.9"/>
<circle cx="831.77" cy="800.08" r="3.55" fill="#e7b58b" fill-opacity="0.3" stroke="#000" stroke-opacity="0.5" stroke-width="2.9"/>
<circle cx="831.77" cy="835.92" r="3.55" fill="#e7b58b" fill-opacity="0.3" stroke="#000" stroke-opacity="0.5" stroke-width="2.9"/>
<circle cx="831.77" cy="891.07" r="3.55" fill="#e7b58b" fill-opacity="0.3" stroke="#000" stroke-opacity="0.5" stroke-width="2.9"/>
<circle cx="831.77" cy="1011.1" r="3.55" fill="#e7b58b" fill-opacity="0.3" stroke="#000" stroke-opacity="0.5" stroke-width="2.9"/>
<circle cx="913.63" cy="1202.8" r="3.55" fill="#cbcbcb" fill-opacity="0.3" stroke="#000" stroke-opacity="0.5" stroke-width="2.9"/>
<circle cx="913.63" cy="1221.1" r="3.55" fill="#cbcbcb" fill-opacity="0.3" stroke="#000" stroke-opacity="0.5" stroke-width="2.9"/>
<circle cx="913.63" cy="1221.1" r="3.55" fill="#cbcbcb" fill-opacity="0.3" stroke="#000" stroke-opacity="0.5" stroke-width="2.9"/>
<circle cx="913.63" cy="1221.1" r="3.55" fill="#cbcbcb" fill-opacity="0.3" stroke="#000" stroke-opacity="0.5" stroke-width="2.9"/>
<circle cx="913.63" cy="1221.1" r="3.55" fill="#cbcbcb" fill-opacity="0.3" stroke="#000" stroke-opacity="0.5" stroke-width="2.9"/>
<circle cx="913.63" cy="1221.1" r="3.55" fill="#cbcbcb" fill-opacity="0.3" stroke="#000" stroke-opacity="0.5" stroke-width="2.9"/>
<circle cx="934.1" cy="1111.33" r="3.55" fill="#a2c56a" fill-opacity="0.3" stroke="#000" stroke-opacity="0.5" stroke-width="2.9"/>
<circle cx="934.1" cy="1164.72" r="3.55" fill="#a2c56a" fill-opacity="0.3" stroke="#000" stroke-opacity="0.5" stroke-width="2.9"/>
<circle cx="934.1" cy="1164.72" r="3.55" fill="#a2c56a" fill-opacity="0.3" stroke="#000" stroke-opacity="0.5" stroke-width="2.9"/>
<circle cx="934.1" cy="1184.77" r="3.55" fill="#a2c56a" fill-opacity="0.3" stroke="#000" stroke-opacity="0.5" stroke-width="2.9"/>
<circle cx="934.1" cy="1202.32" r="3.55" fill="#a2c56a" fill-opacity="0.3" stroke="#000" stroke-opacity="0.5" stroke-width="2.9"/>
<circle cx="934.1" cy="1221.1" r="3.55" fill="#a2c56a" fill-opacity="0.3" stroke="#000" stroke-opacity="0.5" stroke-width="2.9"/>
<circle cx="954.57" cy="781.3" r="3.55" fill="#e7b58b" fill-opacity="0.3" stroke="#000" stroke-opacity="0.5" stroke-width="2.9"/>
<circle cx="954.57" cy="800.08" r="3.55" fill="#e7b58b" fill-opacity="0.3" stroke="#000" stroke-opacity="0.5" stroke-width="2.9"/>
<circle cx="954.57" cy="817.63" r="3.55" fill="#e7b58b" fill-opacity="0.3" stroke="#000" stroke-opacity="0.5" stroke-width="2.9"/>
<circle cx="954.57" cy="837.68" r="3.55" fill="#e7b58b" fill-opacity="0.3" stroke="#000" stroke-opacity="0.5" stroke-width="2.9"/>
<circle cx="954.57" cy="837.68" r="3.55" fill="#e7b58b" fill-opacity="0.3" stroke="#000" stroke-opacity="0.5" stroke-width="2.9"/>
<circle cx="954.57" cy="891.07" r="3.55" fill="#e7b58b" fill-opacity="0.3" stroke="#000" stroke-opacity="0.5" stroke-width="2.9"/>
</g>
<path d="M123.1 759.9V1221.1H1008" stroke="#000" stroke-width="4.3" fill="none" stroke-linejoin="miter"/>
<path d="M112 1221.1H122" stroke="#262626" stroke-width="4.1"/>
<text x="101.8" y="1232.48" font-size="29" text-anchor="end">0.00</text>
<path d="M112 1111.15H122" stroke="#262626" stroke-width="4.1"/>
<text x="101.8" y="1122.53" font-size="29" text-anchor="end">0.25</text>
<path d="M112 1001.2H122" stroke="#262626" stroke-width="4.1"/>
<text x="101.8" y="1012.58" font-size="29" text-anchor="end">0.50</text>
<path d="M112 891.25H122" stroke="#262626" stroke-width="4.1"/>
<text x="101.8" y="902.63" font-size="29" text-anchor="end">0.75</text>
<path d="M112 781.3H122" stroke="#262626" stroke-width="4.1"/>
<text x="101.8" y="792.68" font-size="29" text-anchor="end">1.00</text>
<path d="M197.3 1222.1V1232.1" stroke="#262626" stroke-width="4.1"/>
<text transform="translate(212.3 1257.8) rotate(-45)" font-size="29" text-anchor="end">1%</text>
<path d="M320.1 1222.1V1232.1" stroke="#262626" stroke-width="4.1"/>
<text transform="translate(335.1 1257.8) rotate(-45)" font-size="29" text-anchor="end">10%</text>
<path d="M442.9 1222.1V1232.1" stroke="#262626" stroke-width="4.1"/>
<text transform="translate(457.9 1257.8) rotate(-45)" font-size="29" text-anchor="end">25%</text>
<path d="M565.7 1222.1V1232.1" stroke="#262626" stroke-width="4.1"/>
<text transform="translate(580.7 1257.8) rotate(-45)" font-size="29" text-anchor="end">50%</text>
<path d="M688.5 1222.1V1232.1" stroke="#262626" stroke-width="4.1"/>
<text transform="translate(703.5 1257.8) rotate(-45)" font-size="29" text-anchor="end">90%</text>
<path d="M811.3 1222.1V1232.1" stroke="#262626" stroke-width="4.1"/>
<text transform="translate(826.3 1257.8) rotate(-45)" font-size="29" text-anchor="end">99%</text>
<path d="M934.1 1222.1V1232.1" stroke="#262626" stroke-width="4.1"/>
<text transform="translate(949.1 1257.8) rotate(-45)" font-size="29" text-anchor="end">100%</text>
<text x="199.1" y="1318.1" font-size="25" text-anchor="middle">n = 3</text>
<text x="321.1" y="1318.1" font-size="25" text-anchor="middle">n = 3</text>
<text x="443.3" y="1318.1" font-size="25" text-anchor="middle">n = 6</text>
<text x="564" y="1318.1" font-size="25" text-anchor="middle">n = 3</text>
<text x="687.9" y="1318.1" font-size="25" text-anchor="middle">n = 6</text>
<text x="812.9" y="1318.1" font-size="25" text-anchor="middle">n = 5</text>
<text x="938.7" y="1318.1" font-size="25" text-anchor="middle">n = 6</text>
<text x="565.5" y="1350.4" font-size="29.5" text-anchor="middle"><tspan font-style="italic">P. aeruginosa</tspan> starting percentage</text>
<text transform="translate(23.4 990.5) rotate(-90)" font-size="29.5" text-anchor="middle">Proportion</text>
</g>
<g>
<text x="122.3" y="1436.2" font-size="31" font-weight="bold">c</text>
<rect x="349.7" y="1447.7" width="21.4" height="29" fill="#cbcbcb" stroke="#2b2b2b" stroke-width="1.9" stroke-linejoin="round"/>
<circle cx="360.4" cy="1462.2" r="3.55" fill="#cbcbcb" fill-opacity="0.3" stroke="#000" stroke-opacity="0.5" stroke-width="2.9"/>
<text x="394.9" y="1472.7" font-size="29.0">Sensitive</text>
<rect x="536.9" y="1447.7" width="21.4" height="29" fill="#a2c56a" stroke="#2b2b2b" stroke-width="1.9" stroke-linejoin="round"/>
<circle cx="547.6" cy="1462.2" r="3.55" fill="#a2c56a" fill-opacity="0.3" stroke="#000" stroke-opacity="0.5" stroke-width="2.9"/>
<text x="582.5" y="1472.7" font-size="29.0">CRISPR</text>
<rect x="716.4" y="1447.7" width="21.4" height="29" fill="#e7b58b" stroke="#2b2b2b" stroke-width="1.9" stroke-linejoin="round"/>
<circle cx="727.1" cy="1462.2" r="3.55" fill="#e7b58b" fill-opacity="0.3" stroke="#000" stroke-opacity="0.5" stroke-width="2.9"/>
<text x="761.6" y="1472.7" font-size="29.0">SM</text>
<clipPath id="cpc"><rect x="123" y="1438.5" width="893" height="490.6"/></clipPath>
<g clip-path="url(#cpc)">
<rect x="166.6" y="1575.01" width="20.47" height="354.09" fill="#cbcbcb" stroke="#111" stroke-width="1.8"/>
<rect x="187.06" y="1907.37" width="20.47" height="21.73" fill="#a2c56a" stroke="#111" stroke-width="1.8"/>
<rect x="207.54" y="1864.65" width="20.47" height="64.45" fill="#e7b58b" stroke="#111" stroke-width="1.8"/>
<rect x="289.39" y="1922.87" width="20.47" height="6.23" fill="#cbcbcb" stroke="#111" stroke-width="1.8"/>
<rect x="309.87" y="1803.4" width="20.47" height="125.7" fill="#a2c56a" stroke="#111" stroke-width="1.8"/>
<rect x="330.34" y="1621.76" width="20.47" height="307.34" fill="#e7b58b" stroke="#111" stroke-width="1.8"/>
<rect x="412.19" y="1921.59" width="20.47" height="7.51" fill="#cbcbcb" stroke="#111" stroke-width="1.8"/>
<rect x="432.66" y="1743.43" width="20.47" height="185.67" fill="#a2c56a" stroke="#111" stroke-width="1.8"/>
<rect x="453.13" y="1682.49" width="20.47" height="246.61" fill="#e7b58b" stroke="#111" stroke-width="1.8"/>
<rect x="555.47" y="1712.96" width="20.47" height="216.14" fill="#a2c56a" stroke="#111" stroke-width="1.8"/>
<rect x="575.94" y="1705.45" width="20.47" height="223.65" fill="#e7b58b" stroke="#111" stroke-width="1.8"/>
<rect x="657.79" y="1892.35" width="20.47" height="36.75" fill="#cbcbcb" stroke="#111" stroke-width="1.8"/>
<rect x="678.26" y="1772.93" width="20.47" height="156.17" fill="#a2c56a" stroke="#111" stroke-width="1.8"/>
<rect x="698.74" y="1681.74" width="20.47" height="247.36" fill="#e7b58b" stroke="#111" stroke-width="1.8"/>
<rect x="780.59" y="1883.61" width="20.47" height="45.49" fill="#cbcbcb" stroke="#111" stroke-width="1.8"/>
<rect x="801.06" y="1843.66" width="20.47" height="85.44" fill="#a2c56a" stroke="#111" stroke-width="1.8"/>
<rect x="821.53" y="1620.97" width="20.47" height="308.13" fill="#e7b58b" stroke="#111" stroke-width="1.8"/>
<rect x="903.39" y="1919.84" width="20.47" height="9.26" fill="#cbcbcb" stroke="#111" stroke-width="1.8"/>
<rect x="923.86" y="1879.88" width="20.47" height="49.22" fill="#a2c56a" stroke="#111" stroke-width="1.8"/>
<rect x="944.33" y="1548.79" width="20.47" height="380.31" fill="#e7b58b" stroke="#111" stroke-width="1.8"/>
<path d="M176.83 1523.77V1626.73M174.73 1523.77h4.2M174.73 1626.73h4.2" stroke="#0d0d0d" stroke-width="1.8" fill="none"/>
<path d="M197.3 1896.61V1918.61M195.2 1896.61h4.2M195.2 1918.61h4.2" stroke="#0d0d0d" stroke-width="1.8" fill="none"/>
<path d="M217.77 1823.64V1906.09M215.67 1823.64h4.2M215.67 1906.09h4.2" stroke="#0d0d0d" stroke-width="1.8" fill="none"/>
<path d="M299.63 1916.59V1929.1M297.53 1916.59h4.2M297.53 1929.1h4.2" stroke="#0d0d0d" stroke-width="1.8" fill="none"/>
<path d="M320.1 1762.92V1843.4M318 1762.92h4.2M318 1843.4h4.2" stroke="#0d0d0d" stroke-width="1.8" fill="none"/>
<path d="M340.57 1583.74V1659.96M338.47 1583.74h4.2M338.47 1659.96h4.2" stroke="#0d0d0d" stroke-width="1.8" fill="none"/>
<path d="M422.43 1916.1V1927.34M420.33 1916.1h4.2M420.33 1927.34h4.2" stroke="#0d0d0d" stroke-width="1.8" fill="none"/>
<path d="M442.9 1706.19V1780.92M440.8 1706.19h4.2M440.8 1780.92h4.2" stroke="#0d0d0d" stroke-width="1.8" fill="none"/>
<path d="M463.37 1643.5V1721.69M461.27 1643.5h4.2M461.27 1721.69h4.2" stroke="#0d0d0d" stroke-width="1.8" fill="none"/>
<path d="M565.7 1664.97V1761.16M563.6 1664.97h4.2M563.6 1761.16h4.2" stroke="#0d0d0d" stroke-width="1.8" fill="none"/>
<path d="M586.17 1657.46V1753.44M584.07 1657.46h4.2M584.07 1753.44h4.2" stroke="#0d0d0d" stroke-width="1.8" fill="none"/>
<path d="M668.03 1874.13V1910.35M665.93 1874.13h4.2M665.93 1910.35h4.2" stroke="#0d0d0d" stroke-width="1.8" fill="none"/>
<path d="M688.5 1721.69V1824.91M686.4 1721.69h4.2M686.4 1824.91h4.2" stroke="#0d0d0d" stroke-width="1.8" fill="none"/>
<path d="M708.97 1625.01V1738.68M706.87 1625.01h4.2M706.87 1738.68h4.2" stroke="#0d0d0d" stroke-width="1.8" fill="none"/>
<path d="M790.83 1847.88V1918.61M788.73 1847.88h4.2M788.73 1918.61h4.2" stroke="#0d0d0d" stroke-width="1.8" fill="none"/>
<path d="M811.3 1807.92V1879.14M809.2 1807.92h4.2M809.2 1879.14h4.2" stroke="#0d0d0d" stroke-width="1.8" fill="none"/>
<path d="M831.77 1561.79V1679.98M829.67 1561.79h4.2M829.67 1679.98h4.2" stroke="#0d0d0d" stroke-width="1.8" fill="none"/>
<path d="M913.63 1912.86V1927.78M911.53 1912.86h4.2M911.53 1927.78h4.2" stroke="#0d0d0d" stroke-width="1.8" fill="none"/>
<path d="M934.1 1861.14V1897.88M932 1861.14h4.2M932 1897.88h4.2" stroke="#0d0d0d" stroke-width="1.8" fill="none"/>
<path d="M954.57 1532.29V1565.52M952.47 1532.29h4.2M952.47 1565.52h4.2" stroke="#0d0d0d" stroke-width="1.8" fill="none"/>
<circle cx="176.83" cy="1490.05" r="3.55" fill="#cbcbcb" fill-opacity="0.3" stroke="#000" stroke-opacity="0.5" stroke-width="2.9"/>
<circle cx="176.83" cy="1490.05" r="3.55" fill="#cbcbcb" fill-opacity="0.3" stroke="#000" stroke-opacity="0.5" stroke-width="2.9"/>
<circle cx="176.83" cy="1490.05" r="3.55" fill="#cbcbcb" fill-opacity="0.3" stroke="#000" stroke-opacity="0.5" stroke-width="2.9"/>
<circle cx="176.83" cy="1508.05" r="3.55" fill="#cbcbcb" fill-opacity="0.3" stroke="#000" stroke-opacity="0.5" stroke-width="2.9"/>
<circle cx="176.83" cy="1709.18" r="3.55" fill="#cbcbcb" fill-opacity="0.3" stroke="#000" stroke-opacity="0.5" stroke-width="2.9"/>
<circle cx="176.83" cy="1764.19" r="3.55" fill="#cbcbcb" fill-opacity="0.3" stroke="#000" stroke-opacity="0.5" stroke-width="2.9"/>
<circle cx="197.3" cy="1874.13" r="3.55" fill="#a2c56a" fill-opacity="0.3" stroke="#000" stroke-opacity="0.5" stroke-width="2.9"/>
<circle cx="197.3" cy="1874.13" r="3.55" fill="#a2c56a" fill-opacity="0.3" stroke="#000" stroke-opacity="0.5" stroke-width="2.9"/>
<circle cx="197.3" cy="1911.1" r="3.55" fill="#a2c56a" fill-opacity="0.3" stroke="#000" stroke-opacity="0.5" stroke-width="2.9"/>
<circle cx="197.3" cy="1929.1" r="3.55" fill="#a2c56a" fill-opacity="0.3" stroke="#000" stroke-opacity="0.5" stroke-width="2.9"/>
<circle cx="197.3" cy="1929.1" r="3.55" fill="#a2c56a" fill-opacity="0.3" stroke="#000" stroke-opacity="0.5" stroke-width="2.9"/>
<circle cx="197.3" cy="1929.1" r="3.55" fill="#a2c56a" fill-opacity="0.3" stroke="#000" stroke-opacity="0.5" stroke-width="2.9"/>
<circle cx="217.77" cy="1709.18" r="3.55" fill="#e7b58b" fill-opacity="0.3" stroke="#000" stroke-opacity="0.5" stroke-width="2.9"/>
<circle cx="217.77" cy="1764.19" r="3.55" fill="#e7b58b" fill-opacity="0.3" stroke="#000" stroke-opacity="0.5" stroke-width="2.9"/>
<circle cx="217.77" cy="1929.1" r="3.55" fill="#e7b58b" fill-opacity="0.3" stroke="#000" stroke-opacity="0.5" stroke-width="2.9"/>
<circle cx="217.77" cy="1929.1" r="3.55" fill="#e7b58b" fill-opacity="0.3" stroke="#000" stroke-opacity="0.5" stroke-width="2.9"/>
<circle cx="217.77" cy="1929.1" r="3.55" fill="#e7b58b" fill-opacity="0.3" stroke="#000" stroke-opacity="0.5" stroke-width="2.9"/>
<circle cx="217.77" cy="1929.1" r="3.55" fill="#e7b58b" fill-opacity="0.3" stroke="#000" stroke-opacity="0.5" stroke-width="2.9"/>
<circle cx="299.63" cy="1891.61" r="3.55" fill="#cbcbcb" fill-opacity="0.3" stroke="#000" stroke-opacity="0.5" stroke-width="2.9"/>
<circle cx="299.63" cy="1929.1" r="3.55" fill="#cbcbcb" fill-opacity="0.3" stroke="#000" stroke-opacity="0.5" stroke-width="2.9"/>
<circle cx="299.63" cy="1929.1" r="3.55" fill="#cbcbcb" fill-opacity="0.3" stroke="#000" stroke-opacity="0.5" stroke-width="2.9"/>
<circle cx="299.63" cy="1929.1" r="3.55" fill="#cbcbcb" fill-opacity="0.3" stroke="#000" stroke-opacity="0.5" stroke-width="2.9"/>
<circle cx="299.63" cy="1929.1" r="3.55" fill="#cbcbcb" fill-opacity="0.3" stroke="#000" stroke-opacity="0.5" stroke-width="2.9"/>
<circle cx="299.63" cy="1929.1" r="3.55" fill="#cbcbcb" fill-opacity="0.3" stroke="#000" stroke-opacity="0.5" stroke-width="2.9"/>
<circle cx="320.1" cy="1672.96" r="3.55" fill="#a2c56a" fill-opacity="0.3" stroke="#000" stroke-opacity="0.5" stroke-width="2.9"/>
<circle cx="320.1" cy="1690.96" r="3.55" fill="#a2c56a" fill-opacity="0.3" stroke="#000" stroke-opacity="0.5" stroke-width="2.9"/>
<circle cx="320.1" cy="1834.88" r="3.55" fill="#a2c56a" fill-opacity="0.3" stroke="#000" stroke-opacity="0.5" stroke-width="2.9"/>
<circle cx="320.1" cy="1834.88" r="3.55" fill="#a2c56a" fill-opacity="0.3" stroke="#000" stroke-opacity="0.5" stroke-width="2.9"/>
<circle cx="320.1" cy="1874.13" r="3.55" fill="#a2c56a" fill-opacity="0.3" stroke="#000" stroke-opacity="0.5" stroke-width="2.9"/>
<circle cx="320.1" cy="1910.88" r="3.55" fill="#a2c56a" fill-opacity="0.3" stroke="#000" stroke-opacity="0.5" stroke-width="2.9"/>
<circle cx="340.57" cy="1508.05" r="3.55" fill="#e7b58b" fill-opacity="0.3" stroke="#000" stroke-opacity="0.5" stroke-width="2.9"/>
<circle cx="340.57" cy="1581.24" r="3.55" fill="#e7b58b" fill-opacity="0.3" stroke="#000" stroke-opacity="0.5" stroke-width="2.9"/>
<circle cx="340.57" cy="1581.24" r="3.55" fill="#e7b58b" fill-opacity="0.3" stroke="#000" stroke-opacity="0.5" stroke-width="2.9"/>
<circle cx="340.57" cy="1586.2" r="3.55" fill="#e7b58b" fill-opacity="0.3" stroke="#000" stroke-opacity="0.5" stroke-width="2.9"/>
<circle cx="340.57" cy="1727.93" r="3.55" fill="#e7b58b" fill-opacity="0.3" stroke="#000" stroke-opacity="0.5" stroke-width="2.9"/>
<circle cx="340.57" cy="1745.93" r="3.55" fill="#e7b58b" fill-opacity="0.3" stroke="#000" stroke-opacity="0.5" stroke-width="2.9"/>
<circle cx="422.43" cy="1905.35" r="3.55" fill="#cbcbcb" fill-opacity="0.3" stroke="#000" stroke-opacity="0.5" stroke-width="2.9"/>
<circle cx="422.43" cy="1908.6" r="3.55" fill="#cbcbcb" fill-opacity="0.3" stroke="#000" stroke-opacity="0.5" stroke-width="2.9"/>
<circle cx="422.43" cy="1929.1" r="3.55" fill="#cbcbcb" fill-opacity="0.3" stroke="#000" stroke-opacity="0.5" stroke-width="2.9"/>
<circle cx="422.43" cy="1929.1" r="3.55" fill="#cbcbcb" fill-opacity="0.3" stroke="#000" stroke-opacity="0.5" stroke-width="2.9"/>
<circle cx="422.43" cy="1929.1" r="3.55" fill="#cbcbcb" fill-opacity="0.3" stroke="#000" stroke-opacity="0.5" stroke-width="2.9"/>
<circle cx="422.43" cy="1929.1" r="3.55" fill="#cbcbcb" fill-opacity="0.3" stroke="#000" stroke-opacity="0.5" stroke-width="2.9"/>
<circle cx="442.9" cy="1623.48" r="3.55" fill="#a2c56a" fill-opacity="0.3" stroke="#000" stroke-opacity="0.5" stroke-width="2.9"/>
<circle cx="442.9" cy="1657.24" r="3.55" fill="#a2c56a" fill-opacity="0.3" stroke="#000" stroke-opacity="0.5" stroke-width="2.9"/>
<circle cx="442.9" cy="1737.94" r="3.55" fill="#a2c56a" fill-opacity="0.3" stroke="#000" stroke-opacity="0.5" stroke-width="2.9"/>
<circle cx="442.9" cy="1757.91" r="3.55" fill="#a2c56a" fill-opacity="0.3" stroke="#000" stroke-opacity="0.5" stroke-width="2.9"/>
<circle cx="442.9" cy="1829.13" r="3.55" fill="#a2c56a" fill-opacity="0.3" stroke="#000" stroke-opacity="0.5" stroke-width="2.9"/>
<circle cx="442.9" cy="1855.65" r="3.55" fill="#a2c56a" fill-opacity="0.3" stroke="#000" stroke-opacity="0.5" stroke-width="2.9"/>
<circle cx="463.37" cy="1563.02" r="3.55" fill="#e7b58b" fill-opacity="0.3" stroke="#000" stroke-opacity="0.5" stroke-width="2.9"/>
<circle cx="463.37" cy="1589.76" r="3.55" fill="#e7b58b" fill-opacity="0.3" stroke="#000" stroke-opacity="0.5" stroke-width="2.9"/>
<circle cx="463.37" cy="1681.74" r="3.55" fill="#e7b58b" fill-opacity="0.3" stroke="#000" stroke-opacity="0.5" stroke-width="2.9"/>
<circle cx="463.37" cy="1685.47" r="3.55" fill="#e7b58b" fill-opacity="0.3" stroke="#000" stroke-opacity="0.5" stroke-width="2.9"/>
<circle cx="463.37" cy="1782.9" r="3.55" fill="#e7b58b" fill-opacity="0.3" stroke="#000" stroke-opacity="0.5" stroke-width="2.9"/>
<circle cx="463.37" cy="1795.41" r="3.55" fill="#e7b58b" fill-opacity="0.3" stroke="#000" stroke-opacity="0.5" stroke-width="2.9"/>
<circle cx="545.23" cy="1929.1" r="3.55" fill="#cbcbcb" fill-opacity="0.3" stroke="#000" stroke-opacity="0.5" stroke-width="2.9"/>
<circle cx="545.23" cy="1929.1" r="3.55" fill="#cbcbcb" fill-opacity="0.3" stroke="#000" stroke-opacity="0.5" stroke-width="2.9"/>
<circle cx="545.23" cy="1929.1" r="3.55" fill="#cbcbcb" fill-opacity="0.3" stroke="#000" stroke-opacity="0.5" stroke-width="2.9"/>
<circle cx="545.23" cy="1929.1" r="3.55" fill="#cbcbcb" fill-opacity="0.3" stroke="#000" stroke-opacity="0.5" stroke-width="2.9"/>
<circle cx="545.23" cy="1929.1" r="3.55" fill="#cbcbcb" fill-opacity="0.3" stroke="#000" stroke-opacity="0.5" stroke-width="2.9"/>
<circle cx="545.23" cy="1929.1" r="3.55" fill="#cbcbcb" fill-opacity="0.3" stroke="#000" stroke-opacity="0.5" stroke-width="2.9"/>
<circle cx="565.7" cy="1563.02" r="3.55" fill="#a2c56a" fill-opacity="0.3" stroke="#000" stroke-opacity="0.5" stroke-width="2.9"/>
<circle cx="565.7" cy="1649.21" r="3.55" fill="#a2c56a" fill-opacity="0.3" stroke="#000" stroke-opacity="0.5" stroke-width="2.9"/>
<circle cx="565.7" cy="1672.48" r="3.55" fill="#a2c56a" fill-opacity="0.3" stroke="#000" stroke-opacity="0.5" stroke-width="2.9"/>
<circle cx="565.7" cy="1737.94" r="3.55" fill="#a2c56a" fill-opacity="0.3" stroke="#000" stroke-opacity="0.5" stroke-width="2.9"/>
<circle cx="565.7" cy="1745.93" r="3.55" fill="#a2c56a" fill-opacity="0.3" stroke="#000" stroke-opacity="0.5" stroke-width="2.9"/>
<circle cx="565.7" cy="1910.35" r="3.55" fill="#a2c56a" fill-opacity="0.3" stroke="#000" stroke-opacity="0.5" stroke-width="2.9"/>
<circle cx="586.17" cy="1508.8" r="3.55" fill="#e7b58b" fill-opacity="0.3" stroke="#000" stroke-opacity="0.5" stroke-width="2.9"/>
<circle cx="586.17" cy="1672.48" r="3.55" fill="#e7b58b" fill-opacity="0.3" stroke="#000" stroke-opacity="0.5" stroke-width="2.9"/>
<circle cx="586.17" cy="1680.47" r="3.55" fill="#e7b58b" fill-opacity="0.3" stroke="#000" stroke-opacity="0.5" stroke-width="2.9"/>
<circle cx="586.17" cy="1745.93" r="3.55" fill="#e7b58b" fill-opacity="0.3" stroke="#000" stroke-opacity="0.5" stroke-width="2.9"/>
<circle cx="586.17" cy="1769.15" r="3.55" fill="#e7b58b" fill-opacity="0.3" stroke="#000" stroke-opacity="0.5" stroke-width="2.9"/>
<circle cx="586.17" cy="1855.65" r="3.55" fill="#e7b58b" fill-opacity="0.3" stroke="#000" stroke-opacity="0.5" stroke-width="2.9"/>
<circle cx="668.03" cy="1837.38" r="3.55" fill="#cbcbcb" fill-opacity="0.3" stroke="#000" stroke-opacity="0.5" stroke-width="2.9"/>
<circle cx="668.03" cy="1837.38" r="3.55" fill="#cbcbcb" fill-opacity="0.3" stroke="#000" stroke-opacity="0.5" stroke-width="2.9"/>
<circle cx="668.03" cy="1890.86" r="3.55" fill="#cbcbcb" fill-opacity="0.3" stroke="#000" stroke-opacity="0.5" stroke-width="2.9"/>
<circle cx="668.03" cy="1929.1" r="3.55" fill="#cbcbcb" fill-opacity="0.3" stroke="#000" stroke-opacity="0.5" stroke-width="2.9"/>
<circle cx="668.03" cy="1929.1" r="3.55" fill="#cbcbcb" fill-opacity="0.3" stroke="#000" stroke-opacity="0.5" stroke-width="2.9"/>
<circle cx="668.03" cy="1929.1" r="3.55" fill="#cbcbcb" fill-opacity="0.3" stroke="#000" stroke-opacity="0.5" stroke-width="2.9"/>
<circle cx="688.5" cy="1547.26" r="3.55" fill="#a2c56a" fill-opacity="0.3" stroke="#000" stroke-opacity="0.5" stroke-width="2.9"/>
<circle cx="688.5" cy="1727.44" r="3.55" fill="#a2c56a" fill-opacity="0.3" stroke="#000" stroke-opacity="0.5" stroke-width="2.9"/>
<circle cx="688.5" cy="1764.19" r="3.55" fill="#a2c56a" fill-opacity="0.3" stroke="#000" stroke-opacity="0.5" stroke-width="2.9"/>
<circle cx="688.5" cy="1852.88" r="3.55" fill="#a2c56a" fill-opacity="0.3" stroke="#000" stroke-opacity="0.5" stroke-width="2.9"/>
<circle cx="688.5" cy="1874.13" r="3.55" fill="#a2c56a" fill-opacity="0.3" stroke="#000" stroke-opacity="0.5" stroke-width="2.9"/>
<circle cx="688.5" cy="1874.13" r="3.55" fill="#a2c56a" fill-opacity="0.3" stroke="#000" stroke-opacity="0.5" stroke-width="2.9"/>
<circle cx="708.97" cy="1545.02" r="3.55" fill="#e7b58b" fill-opacity="0.3" stroke="#000" stroke-opacity="0.5" stroke-width="2.9"/>
<circle cx="708.97" cy="1566.75" r="3.55" fill="#e7b58b" fill-opacity="0.3" stroke="#000" stroke-opacity="0.5" stroke-width="2.9"/>
<circle cx="708.97" cy="1636.25" r="3.55" fill="#e7b58b" fill-opacity="0.3" stroke="#000" stroke-opacity="0.5" stroke-width="2.9"/>
<circle cx="708.97" cy="1654.21" r="3.55" fill="#e7b58b" fill-opacity="0.3" stroke="#000" stroke-opacity="0.5" stroke-width="2.9"/>
<circle cx="708.97" cy="1782.9" r="3.55" fill="#e7b58b" fill-opacity="0.3" stroke="#000" stroke-opacity="0.5" stroke-width="2.9"/>
<circle cx="708.97" cy="1910.35" r="3.55" fill="#e7b58b" fill-opacity="0.3" stroke="#000" stroke-opacity="0.5" stroke-width="2.9"/>
<circle cx="790.83" cy="1709.18" r="3.55" fill="#cbcbcb" fill-opacity="0.3" stroke="#000" stroke-opacity="0.5" stroke-width="2.9"/>
<circle cx="790.83" cy="1892.35" r="3.55" fill="#cbcbcb" fill-opacity="0.3" stroke="#000" stroke-opacity="0.5" stroke-width="2.9"/>
<circle cx="790.83" cy="1911.1" r="3.55" fill="#cbcbcb" fill-opacity="0.3" stroke="#000" stroke-opacity="0.5" stroke-width="2.9"/>
<circle cx="790.83" cy="1929.1" r="3.55" fill="#cbcbcb" fill-opacity="0.3" stroke="#000" stroke-opacity="0.5" stroke-width="2.9"/>
<circle cx="790.83" cy="1929.1" r="3.55" fill="#cbcbcb" fill-opacity="0.3" stroke="#000" stroke-opacity="0.5" stroke-width="2.9"/>
<circle cx="790.83" cy="1929.1" r="3.55" fill="#cbcbcb" fill-opacity="0.3" stroke="#000" stroke-opacity="0.5" stroke-width="2.9"/>
<circle cx="811.3" cy="1709.18" r="3.55" fill="#a2c56a" fill-opacity="0.3" stroke="#000" stroke-opacity="0.5" stroke-width="2.9"/>
<circle cx="811.3" cy="1800.9" r="3.55" fill="#a2c56a" fill-opacity="0.3" stroke="#000" stroke-opacity="0.5" stroke-width="2.9"/>
<circle cx="811.3" cy="1800.9" r="3.55" fill="#a2c56a" fill-opacity="0.3" stroke="#000" stroke-opacity="0.5" stroke-width="2.9"/>
<circle cx="811.3" cy="1911.1" r="3.55" fill="#a2c56a" fill-opacity="0.3" stroke="#000" stroke-opacity="0.5" stroke-width="2.9"/>
<circle cx="811.3" cy="1911.1" r="3.55" fill="#a2c56a" fill-opacity="0.3" stroke="#000" stroke-opacity="0.5" stroke-width="2.9"/>
<circle cx="811.3" cy="1929.1" r="3.55" fill="#a2c56a" fill-opacity="0.3" stroke="#000" stroke-opacity="0.5" stroke-width="2.9"/>
<circle cx="831.77" cy="1490.05" r="3.55" fill="#e7b58b" fill-opacity="0.3" stroke="#000" stroke-opacity="0.5" stroke-width="2.9"/>
<circle cx="831.77" cy="1508.53" r="3.55" fill="#e7b58b" fill-opacity="0.3" stroke="#000" stroke-opacity="0.5" stroke-width="2.9"/>
<circle cx="831.77" cy="1508.53" r="3.55" fill="#e7b58b" fill-opacity="0.3" stroke="#000" stroke-opacity="0.5" stroke-width="2.9"/>
<circle cx="831.77" cy="1636.25" r="3.55" fill="#e7b58b" fill-opacity="0.3" stroke="#000" stroke-opacity="0.5" stroke-width="2.9"/>
<circle cx="831.77" cy="1745.93" r="3.55" fill="#e7b58b" fill-opacity="0.3" stroke="#000" stroke-opacity="0.5" stroke-width="2.9"/>
<circle cx="831.77" cy="1837.38" r="3.55" fill="#e7b58b" fill-opacity="0.3" stroke="#000" stroke-opacity="0.5" stroke-width="2.9"/>
<circle cx="913.63" cy="1910.35" r="3.55" fill="#cbcbcb" fill-opacity="0.3" stroke="#000" stroke-opacity="0.5" stroke-width="2.9"/>
<circle cx="913.63" cy="1910.35" r="3.55" fill="#cbcbcb" fill-opacity="0.3" stroke="#000" stroke-opacity="0.5" stroke-width="2.9"/>
<circle cx="913.63" cy="1910.35" r="3.55" fill="#cbcbcb" fill-opacity="0.3" stroke="#000" stroke-opacity="0.5" stroke-width="2.9"/>
<circle cx="913.63" cy="1929.1" r="3.55" fill="#cbcbcb" fill-opacity="0.3" stroke="#000" stroke-opacity="0.5" stroke-width="2.9"/>
<circle cx="913.63" cy="1929.1" r="3.55" fill="#cbcbcb" fill-opacity="0.3" stroke="#000" stroke-opacity="0.5" stroke-width="2.9"/>
<circle cx="913.63" cy="1929.1" r="3.55" fill="#cbcbcb" fill-opacity="0.3" stroke="#000" stroke-opacity="0.5" stroke-width="2.9"/>
<circle cx="934.1" cy="1819.16" r="3.55" fill="#a2c56a" fill-opacity="0.3" stroke="#000" stroke-opacity="0.5" stroke-width="2.9"/>
<circle cx="934.1" cy="1848.62" r="3.55" fill="#a2c56a" fill-opacity="0.3" stroke="#000" stroke-opacity="0.5" stroke-width="2.9"/>
<circle cx="934.1" cy="1855.38" r="3.55" fill="#a2c56a" fill-opacity="0.3" stroke="#000" stroke-opacity="0.5" stroke-width="2.9"/>
<circle cx="934.1" cy="1910.88" r="3.55" fill="#a2c56a" fill-opacity="0.3" stroke="#000" stroke-opacity="0.5" stroke-width="2.9"/>
<circle cx="934.1" cy="1910.88" r="3.55" fill="#a2c56a" fill-opacity="0.3" stroke="#000" stroke-opacity="0.5" stroke-width="2.9"/>
<circle cx="934.1" cy="1929.1" r="3.55" fill="#a2c56a" fill-opacity="0.3" stroke="#000" stroke-opacity="0.5" stroke-width="2.9"/>
<circle cx="954.57" cy="1508.05" r="3.55" fill="#e7b58b" fill-opacity="0.3" stroke="#000" stroke-opacity="0.5" stroke-width="2.9"/>
<circle cx="954.57" cy="1508.05" r="3.55" fill="#e7b58b" fill-opacity="0.3" stroke="#000" stroke-opacity="0.5" stroke-width="2.9"/>
<circle cx="954.57" cy="1526.8" r="3.55" fill="#e7b58b" fill-opacity="0.3" stroke="#000" stroke-opacity="0.5" stroke-width="2.9"/>
<circle cx="954.57" cy="1563.02" r="3.55" fill="#e7b58b" fill-opacity="0.3" stroke="#000" stroke-opacity="0.5" stroke-width="2.9"/>
<circle cx="954.57" cy="1589.76" r="3.55" fill="#e7b58b" fill-opacity="0.3" stroke="#000" stroke-opacity="0.5" stroke-width="2.9"/>
<circle cx="954.57" cy="1599.24" r="3.55" fill="#e7b58b" fill-opacity="0.3" stroke="#000" stroke-opacity="0.5" stroke-width="2.9"/>
</g>
<path d="M123.1 1468.5V1929.1H1008" stroke="#000" stroke-width="4.3" fill="none" stroke-linejoin="miter"/>
<path d="M112 1929.1H122" stroke="#262626" stroke-width="4.1"/>
<text x="101.8" y="1940.48" font-size="29" text-anchor="end">0.00</text>
<path d="M112 1819.34H122" stroke="#262626" stroke-width="4.1"/>
<text x="101.8" y="1830.72" font-size="29" text-anchor="end">0.25</text>
<path d="M112 1709.57H122" stroke="#262626" stroke-width="4.1"/>
<text x="101.8" y="1720.96" font-size="29" text-anchor="end">0.50</text>
<path d="M112 1599.81H122" stroke="#262626" stroke-width="4.1"/>
<text x="101.8" y="1611.19" font-size="29" text-anchor="end">0.75</text>
<path d="M112 1490.05H122" stroke="#262626" stroke-width="4.1"/>
<text x="101.8" y="1501.43" font-size="29" text-anchor="end">1.00</text>
<path d="M197.3 1930.1V1940.1" stroke="#262626" stroke-width="4.1"/>
<text transform="translate(212.3 1965.8) rotate(-45)" font-size="29" text-anchor="end">1%</text>
<path d="M320.1 1930.1V1940.1" stroke="#262626" stroke-width="4.1"/>
<text transform="translate(335.1 1965.8) rotate(-45)" font-size="29" text-anchor="end">10%</text>
<path d="M442.9 1930.1V1940.1" stroke="#262626" stroke-width="4.1"/>
<text transform="translate(457.9 1965.8) rotate(-45)" font-size="29" text-anchor="end">25%</text>
<path d="M565.7 1930.1V1940.1" stroke="#262626" stroke-width="4.1"/>
<text transform="translate(580.7 1965.8) rotate(-45)" font-size="29" text-anchor="end">50%</text>
<path d="M688.5 1930.1V1940.1" stroke="#262626" stroke-width="4.1"/>
<text transform="translate(703.5 1965.8) rotate(-45)" font-size="29" text-anchor="end">90%</text>
<path d="M811.3 1930.1V1940.1" stroke="#262626" stroke-width="4.1"/>
<text transform="translate(826.3 1965.8) rotate(-45)" font-size="29" text-anchor="end">99%</text>
<path d="M934.1 1930.1V1940.1" stroke="#262626" stroke-width="4.1"/>
<text transform="translate(949.1 1965.8) rotate(-45)" font-size="29" text-anchor="end">100%</text>
<text x="197.4" y="2024.8" font-size="25" text-anchor="middle">n = 6</text>
<text x="321.1" y="2024.8" font-size="25" text-anchor="middle">n = 6</text>
<text x="445" y="2024.8" font-size="25" text-anchor="middle">n = 6</text>
<text x="565" y="2026.2" font-size="25" text-anchor="middle">n = 6</text>
<text x="686.2" y="2026.2" font-size="25" text-anchor="middle">n = 6</text>
<text x="809.5" y="2028.2" font-size="25" text-anchor="middle">n = 6</text>
<text x="934" y="2030.5" font-size="25" text-anchor="middle">n = 6</text>
<text x="565.5" y="2058.4" font-size="29.5" text-anchor="middle"><tspan font-style="italic">P. aeruginosa</tspan> starting percentage</text>
<text transform="translate(23.4 1698.8) rotate(-90)" font-size="29.5" text-anchor="middle">Proportion</text>
</g>
</svg></body></html>
